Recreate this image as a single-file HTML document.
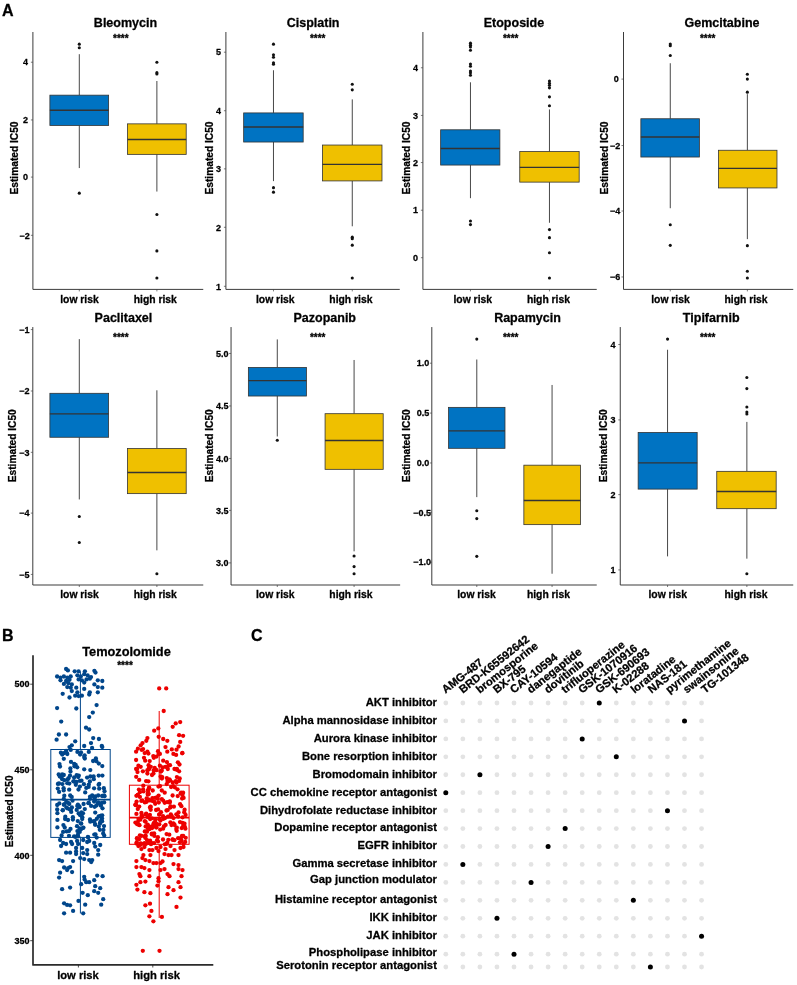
<!DOCTYPE html>
<html><head><meta charset="utf-8"><title>Figure</title>
<style>html,body{margin:0;padding:0;background:#fff}body{width:797px;height:985px;overflow:hidden;font-family:"Liberation Sans",sans-serif}svg{display:block;will-change:transform}</style></head>
<body>
<svg width="797" height="985" viewBox="0 0 797 985" font-family="Liberation Sans, sans-serif" font-weight="bold">
<rect width="797" height="985" fill="#fff"/>
<text x="2.00" y="15.80" font-size="16" text-anchor="start" fill="#000" stroke="#000" stroke-width="0.28" stroke-linejoin="round" >A</text>
<text x="2.00" y="640.90" font-size="16" text-anchor="start" fill="#000" stroke="#000" stroke-width="0.28" stroke-linejoin="round" >B</text>
<text x="251.00" y="641.00" font-size="16" text-anchor="start" fill="#000" stroke="#000" stroke-width="0.28" stroke-linejoin="round" >C</text>
<path d="M32.90 32.00V289.40H203.26" fill="none" stroke="#303030" stroke-width="0.95"/>
<path d="M30.90 62.23H32.90" stroke="#444" stroke-width="0.7"/>
<text x="28.05" y="65.48" font-size="9" text-anchor="end" fill="#000" stroke="#000" stroke-width="0.28" stroke-linejoin="round" >4</text>
<path d="M30.90 119.95H32.90" stroke="#444" stroke-width="0.7"/>
<text x="28.05" y="123.20" font-size="9" text-anchor="end" fill="#000" stroke="#000" stroke-width="0.28" stroke-linejoin="round" >2</text>
<path d="M30.90 177.10H32.90" stroke="#444" stroke-width="0.7"/>
<text x="28.05" y="180.35" font-size="9" text-anchor="end" fill="#000" stroke="#000" stroke-width="0.28" stroke-linejoin="round" >0</text>
<path d="M30.90 235.32H32.90" stroke="#444" stroke-width="0.7"/>
<text x="29.68" y="238.57" font-size="9" text-anchor="end" fill="#000" stroke="#000" stroke-width="0.28" stroke-linejoin="round" >−2</text>
<path d="M79.30 289.40v2.0" stroke="#444" stroke-width="0.7"/>
<path d="M156.89 289.40v2.0" stroke="#444" stroke-width="0.7"/>
<text x="125.47" y="27.00" font-size="12.5" text-anchor="middle" fill="#000" stroke="#000" stroke-width="0.28" stroke-linejoin="round" >Bleomycin</text>
<text x="120.85" y="42.00" font-size="10" text-anchor="middle" fill="#000" stroke="#000" stroke-width="0.28" stroke-linejoin="round" >****</text>
<text transform="translate(18.20 158.00) rotate(-90)" stroke="#000" stroke-width="0.28" stroke-linejoin="round" font-size="10.2" text-anchor="middle">Estimated IC50</text>
<text x="79.50" y="302.70" font-size="10.35" text-anchor="middle" fill="#000" stroke="#000" stroke-width="0.28" stroke-linejoin="round" >low risk</text>
<text x="155.28" y="302.70" font-size="10.35" text-anchor="middle" fill="#000" stroke="#000" stroke-width="0.28" stroke-linejoin="round" >high risk</text>
<path d="M79.30 54.20V95.16M79.30 125.47V168.07" stroke="#333333" stroke-width="0.9"/>
<rect x="49.89" y="95.16" width="58.72" height="30.31" fill="#0073C2" stroke="#333333" stroke-width="0.8"/>
<path d="M49.89 110.21H108.61" stroke="#333333" stroke-width="1.4"/>
<circle cx="79.30" cy="44.17" r="1.55" fill="#111"/>
<circle cx="79.30" cy="47.78" r="1.55" fill="#111"/>
<circle cx="79.30" cy="193.16" r="1.55" fill="#111"/>
<path d="M156.89 81.00V123.86M156.89 154.38V191.56" stroke="#333333" stroke-width="0.9"/>
<rect x="127.48" y="123.86" width="58.72" height="30.51" fill="#EFC000" stroke="#333333" stroke-width="0.8"/>
<path d="M127.48 139.52H186.20" stroke="#333333" stroke-width="1.4"/>
<circle cx="156.89" cy="62.23" r="1.55" fill="#111"/>
<circle cx="156.89" cy="72.67" r="1.55" fill="#111"/>
<circle cx="156.89" cy="73.88" r="1.55" fill="#111"/>
<circle cx="156.89" cy="214.54" r="1.55" fill="#111"/>
<circle cx="156.89" cy="250.88" r="1.55" fill="#111"/>
<circle cx="156.89" cy="277.98" r="1.55" fill="#111"/>
<path d="M225.90 32.00V289.40H399.75" fill="none" stroke="#303030" stroke-width="0.95"/>
<path d="M223.90 52.20H225.90" stroke="#444" stroke-width="0.7"/>
<text x="221.05" y="55.45" font-size="9" text-anchor="end" fill="#000" stroke="#000" stroke-width="0.28" stroke-linejoin="round" >5</text>
<path d="M223.90 110.72H225.90" stroke="#444" stroke-width="0.7"/>
<text x="221.05" y="113.97" font-size="9" text-anchor="end" fill="#000" stroke="#000" stroke-width="0.28" stroke-linejoin="round" >4</text>
<path d="M223.90 168.87H225.90" stroke="#444" stroke-width="0.7"/>
<text x="221.05" y="172.12" font-size="9" text-anchor="end" fill="#000" stroke="#000" stroke-width="0.28" stroke-linejoin="round" >3</text>
<path d="M223.90 227.29H225.90" stroke="#444" stroke-width="0.7"/>
<text x="221.05" y="230.54" font-size="9" text-anchor="end" fill="#000" stroke="#000" stroke-width="0.28" stroke-linejoin="round" >2</text>
<path d="M223.90 286.31H225.90" stroke="#444" stroke-width="0.7"/>
<text x="221.05" y="289.56" font-size="9" text-anchor="end" fill="#000" stroke="#000" stroke-width="0.28" stroke-linejoin="round" >1</text>
<path d="M273.48 289.40v2.0" stroke="#444" stroke-width="0.7"/>
<path d="M352.27 289.40v2.0" stroke="#444" stroke-width="0.7"/>
<text x="313.12" y="27.00" font-size="12.5" text-anchor="middle" fill="#000" stroke="#000" stroke-width="0.28" stroke-linejoin="round" >Cisplatin</text>
<text x="317.74" y="42.00" font-size="10" text-anchor="middle" fill="#000" stroke="#000" stroke-width="0.28" stroke-linejoin="round" >****</text>
<text transform="translate(212.90 158.00) rotate(-90)" stroke="#000" stroke-width="0.28" stroke-linejoin="round" font-size="10.2" text-anchor="middle">Estimated IC50</text>
<text x="275.28" y="302.70" font-size="10.35" text-anchor="middle" fill="#000" stroke="#000" stroke-width="0.28" stroke-linejoin="round" >low risk</text>
<text x="350.87" y="302.70" font-size="10.35" text-anchor="middle" fill="#000" stroke="#000" stroke-width="0.28" stroke-linejoin="round" >high risk</text>
<path d="M273.48 70.26V112.92M273.48 142.03V181.12" stroke="#333333" stroke-width="0.9"/>
<rect x="243.66" y="112.92" width="59.52" height="29.11" fill="#0073C2" stroke="#333333" stroke-width="0.8"/>
<path d="M243.66 126.98H303.19" stroke="#333333" stroke-width="1.4"/>
<circle cx="273.48" cy="44.17" r="1.55" fill="#111"/>
<circle cx="273.48" cy="54.71" r="1.55" fill="#111"/>
<circle cx="273.48" cy="57.21" r="1.55" fill="#111"/>
<circle cx="273.48" cy="62.74" r="1.55" fill="#111"/>
<circle cx="273.48" cy="64.24" r="1.55" fill="#111"/>
<circle cx="273.48" cy="187.64" r="1.55" fill="#111"/>
<circle cx="273.48" cy="192.16" r="1.55" fill="#111"/>
<path d="M352.27 99.37V145.04M352.27 180.92V226.29" stroke="#333333" stroke-width="0.9"/>
<rect x="322.46" y="145.04" width="59.52" height="35.87" fill="#EFC000" stroke="#333333" stroke-width="0.8"/>
<path d="M322.46 164.35H381.98" stroke="#333333" stroke-width="1.4"/>
<circle cx="352.27" cy="84.32" r="1.55" fill="#111"/>
<circle cx="352.27" cy="89.84" r="1.55" fill="#111"/>
<circle cx="352.27" cy="237.13" r="1.55" fill="#111"/>
<circle cx="352.27" cy="238.63" r="1.55" fill="#111"/>
<circle cx="352.27" cy="245.16" r="1.55" fill="#111"/>
<circle cx="352.27" cy="277.98" r="1.55" fill="#111"/>
<path d="M422.90 32.00V289.40H596.74" fill="none" stroke="#303030" stroke-width="0.95"/>
<path d="M420.90 67.75H422.90" stroke="#444" stroke-width="0.7"/>
<text x="418.05" y="71.00" font-size="9" text-anchor="end" fill="#000" stroke="#000" stroke-width="0.28" stroke-linejoin="round" >4</text>
<path d="M420.90 115.43H422.90" stroke="#444" stroke-width="0.7"/>
<text x="418.05" y="118.68" font-size="9" text-anchor="end" fill="#000" stroke="#000" stroke-width="0.28" stroke-linejoin="round" >3</text>
<path d="M420.90 162.55H422.90" stroke="#444" stroke-width="0.7"/>
<text x="418.05" y="165.80" font-size="9" text-anchor="end" fill="#000" stroke="#000" stroke-width="0.28" stroke-linejoin="round" >2</text>
<path d="M420.90 210.23H422.90" stroke="#444" stroke-width="0.7"/>
<text x="418.05" y="213.48" font-size="9" text-anchor="end" fill="#000" stroke="#000" stroke-width="0.28" stroke-linejoin="round" >1</text>
<path d="M420.90 257.70H422.90" stroke="#444" stroke-width="0.7"/>
<text x="418.05" y="260.95" font-size="9" text-anchor="end" fill="#000" stroke="#000" stroke-width="0.28" stroke-linejoin="round" >0</text>
<path d="M470.46 289.40v2.0" stroke="#444" stroke-width="0.7"/>
<path d="M549.46 289.40v2.0" stroke="#444" stroke-width="0.7"/>
<text x="513.93" y="27.00" font-size="12.5" text-anchor="middle" fill="#000" stroke="#000" stroke-width="0.28" stroke-linejoin="round" >Etoposide</text>
<text x="510.72" y="42.00" font-size="10" text-anchor="middle" fill="#000" stroke="#000" stroke-width="0.28" stroke-linejoin="round" >****</text>
<text transform="translate(409.70 158.00) rotate(-90)" stroke="#000" stroke-width="0.28" stroke-linejoin="round" font-size="10.2" text-anchor="middle">Estimated IC50</text>
<text x="472.77" y="302.70" font-size="10.35" text-anchor="middle" fill="#000" stroke="#000" stroke-width="0.28" stroke-linejoin="round" >low risk</text>
<text x="548.46" y="302.70" font-size="10.35" text-anchor="middle" fill="#000" stroke="#000" stroke-width="0.28" stroke-linejoin="round" >high risk</text>
<path d="M470.46 82.31V129.79M470.46 165.06V198.18" stroke="#333333" stroke-width="0.9"/>
<rect x="440.65" y="129.79" width="59.22" height="35.27" fill="#0073C2" stroke="#333333" stroke-width="0.8"/>
<path d="M440.65 148.56H499.87" stroke="#333333" stroke-width="1.4"/>
<circle cx="470.46" cy="43.16" r="1.55" fill="#111"/>
<circle cx="470.46" cy="45.17" r="1.55" fill="#111"/>
<circle cx="470.46" cy="46.98" r="1.55" fill="#111"/>
<circle cx="470.46" cy="50.19" r="1.55" fill="#111"/>
<circle cx="470.46" cy="64.04" r="1.55" fill="#111"/>
<circle cx="470.46" cy="66.25" r="1.55" fill="#111"/>
<circle cx="470.46" cy="71.07" r="1.55" fill="#111"/>
<circle cx="470.46" cy="72.77" r="1.55" fill="#111"/>
<circle cx="470.46" cy="75.28" r="1.55" fill="#111"/>
<circle cx="470.46" cy="221.07" r="1.55" fill="#111"/>
<circle cx="470.46" cy="224.58" r="1.55" fill="#111"/>
<path d="M549.46 109.41V151.57M549.46 182.12V222.77" stroke="#333333" stroke-width="0.9"/>
<rect x="519.75" y="151.57" width="59.42" height="30.55" fill="#EFC000" stroke="#333333" stroke-width="0.8"/>
<path d="M519.75 167.37H579.17" stroke="#333333" stroke-width="1.4"/>
<circle cx="549.46" cy="81.10" r="1.55" fill="#111"/>
<circle cx="549.46" cy="83.31" r="1.55" fill="#111"/>
<circle cx="549.46" cy="85.32" r="1.55" fill="#111"/>
<circle cx="549.46" cy="87.83" r="1.55" fill="#111"/>
<circle cx="549.46" cy="96.86" r="1.55" fill="#111"/>
<circle cx="549.46" cy="105.70" r="1.55" fill="#111"/>
<circle cx="549.46" cy="229.60" r="1.55" fill="#111"/>
<circle cx="549.46" cy="237.63" r="1.55" fill="#111"/>
<circle cx="549.46" cy="252.69" r="1.55" fill="#111"/>
<circle cx="549.46" cy="277.98" r="1.55" fill="#111"/>
<path d="M623.50 32.00V289.40H793.24" fill="none" stroke="#303030" stroke-width="0.95"/>
<path d="M621.50 79.10H623.50" stroke="#444" stroke-width="0.7"/>
<text x="618.65" y="82.35" font-size="9" text-anchor="end" fill="#000" stroke="#000" stroke-width="0.28" stroke-linejoin="round" >0</text>
<path d="M621.50 145.55H623.50" stroke="#444" stroke-width="0.7"/>
<text x="620.28" y="148.80" font-size="9" text-anchor="end" fill="#000" stroke="#000" stroke-width="0.28" stroke-linejoin="round" >−2</text>
<path d="M621.50 211.03H623.50" stroke="#444" stroke-width="0.7"/>
<text x="620.28" y="214.28" font-size="9" text-anchor="end" fill="#000" stroke="#000" stroke-width="0.28" stroke-linejoin="round" >−4</text>
<path d="M621.50 276.98H623.50" stroke="#444" stroke-width="0.7"/>
<text x="620.28" y="280.23" font-size="9" text-anchor="end" fill="#000" stroke="#000" stroke-width="0.28" stroke-linejoin="round" >−6</text>
<path d="M670.27 289.40v2.0" stroke="#444" stroke-width="0.7"/>
<path d="M747.36 289.40v2.0" stroke="#444" stroke-width="0.7"/>
<text x="721.97" y="27.00" font-size="12.5" text-anchor="middle" fill="#000" stroke="#000" stroke-width="0.28" stroke-linejoin="round" >Gemcitabine</text>
<text x="707.72" y="42.00" font-size="10" text-anchor="middle" fill="#000" stroke="#000" stroke-width="0.28" stroke-linejoin="round" >****</text>
<text transform="translate(607.70 158.00) rotate(-90)" stroke="#000" stroke-width="0.28" stroke-linejoin="round" font-size="10.2" text-anchor="middle">Estimated IC50</text>
<text x="670.48" y="302.70" font-size="10.35" text-anchor="middle" fill="#000" stroke="#000" stroke-width="0.28" stroke-linejoin="round" >low risk</text>
<text x="746.06" y="302.70" font-size="10.35" text-anchor="middle" fill="#000" stroke="#000" stroke-width="0.28" stroke-linejoin="round" >high risk</text>
<path d="M670.27 63.24V118.75M670.27 157.03V208.22" stroke="#333333" stroke-width="0.9"/>
<rect x="640.86" y="118.75" width="58.52" height="38.28" fill="#0073C2" stroke="#333333" stroke-width="0.8"/>
<path d="M640.86 137.01H699.38" stroke="#333333" stroke-width="1.4"/>
<circle cx="670.27" cy="43.96" r="1.55" fill="#111"/>
<circle cx="670.27" cy="45.67" r="1.55" fill="#111"/>
<circle cx="670.27" cy="55.51" r="1.55" fill="#111"/>
<circle cx="670.27" cy="224.78" r="1.55" fill="#111"/>
<circle cx="670.27" cy="245.36" r="1.55" fill="#111"/>
<path d="M747.36 94.15V150.26M747.36 187.94V239.13" stroke="#333333" stroke-width="0.9"/>
<rect x="718.46" y="150.26" width="58.52" height="37.68" fill="#EFC000" stroke="#333333" stroke-width="0.8"/>
<path d="M718.46 168.37H776.97" stroke="#333333" stroke-width="1.4"/>
<circle cx="747.36" cy="74.28" r="1.55" fill="#111"/>
<circle cx="747.36" cy="79.10" r="1.55" fill="#111"/>
<circle cx="747.36" cy="92.15" r="1.55" fill="#111"/>
<circle cx="747.36" cy="245.66" r="1.55" fill="#111"/>
<circle cx="747.36" cy="271.25" r="1.55" fill="#111"/>
<circle cx="747.36" cy="277.98" r="1.55" fill="#111"/>
<path d="M32.80 327.06V585.00H203.26" fill="none" stroke="#303030" stroke-width="0.95"/>
<path d="M30.80 329.57H32.80" stroke="#444" stroke-width="0.7"/>
<text x="29.58" y="332.82" font-size="9" text-anchor="end" fill="#000" stroke="#000" stroke-width="0.28" stroke-linejoin="round" >−1</text>
<path d="M30.80 391.00H32.80" stroke="#444" stroke-width="0.7"/>
<text x="29.58" y="394.25" font-size="9" text-anchor="end" fill="#000" stroke="#000" stroke-width="0.28" stroke-linejoin="round" >−2</text>
<path d="M30.80 452.33H32.80" stroke="#444" stroke-width="0.7"/>
<text x="29.58" y="455.58" font-size="9" text-anchor="end" fill="#000" stroke="#000" stroke-width="0.28" stroke-linejoin="round" >−3</text>
<path d="M30.80 513.10H32.80" stroke="#444" stroke-width="0.7"/>
<text x="29.58" y="516.35" font-size="9" text-anchor="end" fill="#000" stroke="#000" stroke-width="0.28" stroke-linejoin="round" >−4</text>
<path d="M30.80 574.43H32.80" stroke="#444" stroke-width="0.7"/>
<text x="29.58" y="577.68" font-size="9" text-anchor="end" fill="#000" stroke="#000" stroke-width="0.28" stroke-linejoin="round" >−5</text>
<path d="M79.30 585.00v2.0" stroke="#444" stroke-width="0.7"/>
<path d="M156.89 585.00v2.0" stroke="#444" stroke-width="0.7"/>
<text x="123.46" y="321.80" font-size="12.5" text-anchor="middle" fill="#000" stroke="#000" stroke-width="0.28" stroke-linejoin="round" >Paclitaxel</text>
<text x="120.85" y="341.30" font-size="10" text-anchor="middle" fill="#000" stroke="#000" stroke-width="0.28" stroke-linejoin="round" >****</text>
<text transform="translate(16.30 445.75) rotate(-90)" stroke="#000" stroke-width="0.28" stroke-linejoin="round" font-size="10.2" text-anchor="middle">Estimated IC50</text>
<text x="79.50" y="598.30" font-size="10.35" text-anchor="middle" fill="#000" stroke="#000" stroke-width="0.28" stroke-linejoin="round" >low risk</text>
<text x="155.28" y="598.30" font-size="10.35" text-anchor="middle" fill="#000" stroke="#000" stroke-width="0.28" stroke-linejoin="round" >high risk</text>
<path d="M79.30 339.11V393.31M79.30 437.28V499.45" stroke="#333333" stroke-width="0.9"/>
<rect x="49.89" y="393.31" width="58.72" height="43.96" fill="#0073C2" stroke="#333333" stroke-width="0.8"/>
<path d="M49.89 413.89H108.61" stroke="#333333" stroke-width="1.4"/>
<circle cx="79.30" cy="516.51" r="1.55" fill="#111"/>
<circle cx="79.30" cy="542.51" r="1.55" fill="#111"/>
<path d="M156.89 390.30V448.52M156.89 493.63V550.34" stroke="#333333" stroke-width="0.9"/>
<rect x="127.48" y="448.52" width="58.72" height="45.11" fill="#EFC000" stroke="#333333" stroke-width="0.8"/>
<path d="M127.48 472.55H186.20" stroke="#333333" stroke-width="1.4"/>
<circle cx="156.89" cy="573.73" r="1.55" fill="#111"/>
<path d="M231.05 327.06V585.00H400.15" fill="none" stroke="#303030" stroke-width="0.95"/>
<path d="M229.05 353.46H231.05" stroke="#444" stroke-width="0.7"/>
<text x="228.53" y="356.71" font-size="9" text-anchor="end" fill="#000" stroke="#000" stroke-width="0.28" stroke-linejoin="round" >5.0</text>
<path d="M229.05 405.96H231.05" stroke="#444" stroke-width="0.7"/>
<text x="228.53" y="409.21" font-size="9" text-anchor="end" fill="#000" stroke="#000" stroke-width="0.28" stroke-linejoin="round" >4.5</text>
<path d="M229.05 458.46H231.05" stroke="#444" stroke-width="0.7"/>
<text x="228.53" y="461.71" font-size="9" text-anchor="end" fill="#000" stroke="#000" stroke-width="0.28" stroke-linejoin="round" >4.0</text>
<path d="M229.05 510.39H231.05" stroke="#444" stroke-width="0.7"/>
<text x="228.53" y="513.64" font-size="9" text-anchor="end" fill="#000" stroke="#000" stroke-width="0.28" stroke-linejoin="round" >3.5</text>
<path d="M229.05 562.89H231.05" stroke="#444" stroke-width="0.7"/>
<text x="228.53" y="566.14" font-size="9" text-anchor="end" fill="#000" stroke="#000" stroke-width="0.28" stroke-linejoin="round" >3.0</text>
<path d="M277.29 585.00v2.0" stroke="#444" stroke-width="0.7"/>
<path d="M354.08 585.00v2.0" stroke="#444" stroke-width="0.7"/>
<text x="324.77" y="321.80" font-size="12.5" text-anchor="middle" fill="#000" stroke="#000" stroke-width="0.28" stroke-linejoin="round" >Pazopanib</text>
<text x="317.74" y="341.30" font-size="10" text-anchor="middle" fill="#000" stroke="#000" stroke-width="0.28" stroke-linejoin="round" >****</text>
<text transform="translate(213.30 445.75) rotate(-90)" stroke="#000" stroke-width="0.28" stroke-linejoin="round" font-size="10.2" text-anchor="middle">Estimated IC50</text>
<text x="275.28" y="598.30" font-size="10.35" text-anchor="middle" fill="#000" stroke="#000" stroke-width="0.28" stroke-linejoin="round" >low risk</text>
<text x="350.87" y="598.30" font-size="10.35" text-anchor="middle" fill="#000" stroke="#000" stroke-width="0.28" stroke-linejoin="round" >high risk</text>
<path d="M277.29 339.41V367.42M277.29 396.02V436.47" stroke="#333333" stroke-width="0.9"/>
<rect x="248.38" y="367.42" width="58.02" height="28.61" fill="#0073C2" stroke="#333333" stroke-width="0.8"/>
<path d="M248.38 380.66H306.40" stroke="#333333" stroke-width="1.4"/>
<circle cx="277.29" cy="440.29" r="1.55" fill="#111"/>
<path d="M354.08 359.99V413.69M354.08 469.34V551.34" stroke="#333333" stroke-width="0.9"/>
<rect x="325.07" y="413.69" width="58.12" height="55.65" fill="#EFC000" stroke="#333333" stroke-width="0.8"/>
<path d="M325.07 440.49H383.19" stroke="#333333" stroke-width="1.4"/>
<circle cx="354.08" cy="556.06" r="1.55" fill="#111"/>
<circle cx="354.08" cy="566.60" r="1.55" fill="#111"/>
<circle cx="354.08" cy="573.73" r="1.55" fill="#111"/>
<path d="M431.80 327.06V585.00H596.74" fill="none" stroke="#303030" stroke-width="0.95"/>
<path d="M429.80 363.20H431.80" stroke="#444" stroke-width="0.7"/>
<text x="429.28" y="366.45" font-size="9" text-anchor="end" fill="#000" stroke="#000" stroke-width="0.28" stroke-linejoin="round" >1.0</text>
<path d="M429.80 413.09H431.80" stroke="#444" stroke-width="0.7"/>
<text x="429.28" y="416.34" font-size="9" text-anchor="end" fill="#000" stroke="#000" stroke-width="0.28" stroke-linejoin="round" >0.5</text>
<path d="M429.80 462.97H431.80" stroke="#444" stroke-width="0.7"/>
<text x="429.28" y="466.22" font-size="9" text-anchor="end" fill="#000" stroke="#000" stroke-width="0.28" stroke-linejoin="round" >0.0</text>
<path d="M429.80 512.30H431.80" stroke="#444" stroke-width="0.7"/>
<text x="430.91" y="515.55" font-size="9" text-anchor="end" fill="#000" stroke="#000" stroke-width="0.28" stroke-linejoin="round" >−0.5</text>
<path d="M429.80 562.18H431.80" stroke="#444" stroke-width="0.7"/>
<text x="430.91" y="565.43" font-size="9" text-anchor="end" fill="#000" stroke="#000" stroke-width="0.28" stroke-linejoin="round" >−1.0</text>
<path d="M476.79 585.00v2.0" stroke="#444" stroke-width="0.7"/>
<path d="M552.07 585.00v2.0" stroke="#444" stroke-width="0.7"/>
<text x="527.48" y="321.80" font-size="12.5" text-anchor="middle" fill="#000" stroke="#000" stroke-width="0.28" stroke-linejoin="round" >Rapamycin</text>
<text x="510.72" y="341.30" font-size="10" text-anchor="middle" fill="#000" stroke="#000" stroke-width="0.28" stroke-linejoin="round" >****</text>
<text transform="translate(409.70 445.75) rotate(-90)" stroke="#000" stroke-width="0.28" stroke-linejoin="round" font-size="10.2" text-anchor="middle">Estimated IC50</text>
<text x="476.49" y="598.30" font-size="10.35" text-anchor="middle" fill="#000" stroke="#000" stroke-width="0.28" stroke-linejoin="round" >low risk</text>
<text x="548.46" y="598.30" font-size="10.35" text-anchor="middle" fill="#000" stroke="#000" stroke-width="0.28" stroke-linejoin="round" >high risk</text>
<path d="M476.79 359.49V407.37M476.79 448.32V497.14" stroke="#333333" stroke-width="0.9"/>
<rect x="448.58" y="407.37" width="56.41" height="40.95" fill="#0073C2" stroke="#333333" stroke-width="0.8"/>
<path d="M448.58 430.85H504.99" stroke="#333333" stroke-width="1.4"/>
<circle cx="476.79" cy="339.11" r="1.55" fill="#111"/>
<circle cx="476.79" cy="510.79" r="1.55" fill="#111"/>
<circle cx="476.79" cy="518.62" r="1.55" fill="#111"/>
<circle cx="476.79" cy="556.36" r="1.55" fill="#111"/>
<path d="M552.07 384.98V465.18M552.07 524.64V573.73" stroke="#333333" stroke-width="0.9"/>
<rect x="523.86" y="465.18" width="56.61" height="59.46" fill="#EFC000" stroke="#333333" stroke-width="0.8"/>
<path d="M523.86 500.45H580.48" stroke="#333333" stroke-width="1.4"/>
<path d="M620.25 327.06V585.00H793.24" fill="none" stroke="#303030" stroke-width="0.95"/>
<path d="M618.25 344.53H620.25" stroke="#444" stroke-width="0.7"/>
<text x="615.40" y="347.78" font-size="9" text-anchor="end" fill="#000" stroke="#000" stroke-width="0.28" stroke-linejoin="round" >4</text>
<path d="M618.25 419.91H620.25" stroke="#444" stroke-width="0.7"/>
<text x="615.40" y="423.16" font-size="9" text-anchor="end" fill="#000" stroke="#000" stroke-width="0.28" stroke-linejoin="round" >3</text>
<path d="M618.25 494.63H620.25" stroke="#444" stroke-width="0.7"/>
<text x="615.40" y="497.88" font-size="9" text-anchor="end" fill="#000" stroke="#000" stroke-width="0.28" stroke-linejoin="round" >2</text>
<path d="M618.25 569.91H620.25" stroke="#444" stroke-width="0.7"/>
<text x="615.40" y="573.16" font-size="9" text-anchor="end" fill="#000" stroke="#000" stroke-width="0.28" stroke-linejoin="round" >1</text>
<path d="M667.56 585.00v2.0" stroke="#444" stroke-width="0.7"/>
<path d="M746.86 585.00v2.0" stroke="#444" stroke-width="0.7"/>
<text x="711.23" y="321.80" font-size="12.5" text-anchor="middle" fill="#000" stroke="#000" stroke-width="0.28" stroke-linejoin="round" >Tipifarnib</text>
<text x="707.72" y="341.30" font-size="10" text-anchor="middle" fill="#000" stroke="#000" stroke-width="0.28" stroke-linejoin="round" >****</text>
<text transform="translate(607.10 445.75) rotate(-90)" stroke="#000" stroke-width="0.28" stroke-linejoin="round" font-size="10.2" text-anchor="middle">Estimated IC50</text>
<text x="667.77" y="598.30" font-size="10.35" text-anchor="middle" fill="#000" stroke="#000" stroke-width="0.28" stroke-linejoin="round" >low risk</text>
<text x="746.06" y="598.30" font-size="10.35" text-anchor="middle" fill="#000" stroke="#000" stroke-width="0.28" stroke-linejoin="round" >high risk</text>
<path d="M667.56 349.75V432.46M667.56 489.11V556.36" stroke="#333333" stroke-width="0.9"/>
<rect x="638.15" y="432.46" width="59.02" height="56.65" fill="#0073C2" stroke="#333333" stroke-width="0.8"/>
<path d="M638.15 462.87H697.18" stroke="#333333" stroke-width="1.4"/>
<circle cx="667.56" cy="339.11" r="1.55" fill="#111"/>
<path d="M746.86 421.92V471.34M746.86 508.68V558.67" stroke="#333333" stroke-width="0.9"/>
<rect x="716.75" y="471.34" width="59.42" height="37.34" fill="#EFC000" stroke="#333333" stroke-width="0.8"/>
<path d="M716.75 491.52H776.17" stroke="#333333" stroke-width="1.4"/>
<circle cx="746.86" cy="377.45" r="1.55" fill="#111"/>
<circle cx="746.86" cy="388.59" r="1.55" fill="#111"/>
<circle cx="746.86" cy="406.96" r="1.55" fill="#111"/>
<circle cx="746.86" cy="411.98" r="1.55" fill="#111"/>
<circle cx="746.86" cy="413.99" r="1.55" fill="#111"/>
<circle cx="746.86" cy="573.73" r="1.55" fill="#111"/>
<path d="M33 655.2V964.9H213.3" fill="none" stroke="#2b2b2b" stroke-width="1.7" stroke-linejoin="round"/>
<path d="M30.2 684.2H33" stroke="#222" stroke-width="0.8"/>
<text x="29.60" y="687.45" font-size="9" text-anchor="end" fill="#000" stroke="#000" stroke-width="0.28" stroke-linejoin="round" >500</text>
<path d="M30.2 769.8H33" stroke="#222" stroke-width="0.8"/>
<text x="29.60" y="773.05" font-size="9" text-anchor="end" fill="#000" stroke="#000" stroke-width="0.28" stroke-linejoin="round" >450</text>
<path d="M30.2 855.3H33" stroke="#222" stroke-width="0.8"/>
<text x="29.60" y="858.55" font-size="9" text-anchor="end" fill="#000" stroke="#000" stroke-width="0.28" stroke-linejoin="round" >400</text>
<path d="M30.2 940.7H33" stroke="#222" stroke-width="0.8"/>
<text x="29.60" y="943.95" font-size="9" text-anchor="end" fill="#000" stroke="#000" stroke-width="0.28" stroke-linejoin="round" >350</text>
<path d="M78.4 964.9v2.6" stroke="#222" stroke-width="0.8"/>
<path d="M152.8 964.9v2.6" stroke="#222" stroke-width="0.8"/>
<text x="126.50" y="655.80" font-size="12.8" text-anchor="middle" fill="#000" stroke="#000" stroke-width="0.28" stroke-linejoin="round" >Temozolomide</text>
<text x="125.00" y="668.80" font-size="10" text-anchor="middle" fill="#000" stroke="#000" stroke-width="0.28" stroke-linejoin="round" >****</text>
<text transform="translate(12.5 811.4) rotate(-90)" stroke="#000" stroke-width="0.28" stroke-linejoin="round" font-size="10" text-anchor="middle">Estimated IC50</text>
<text x="78.00" y="979.20" font-size="11.2" text-anchor="middle" fill="#000" stroke="#000" stroke-width="0.28" stroke-linejoin="round" >low risk</text>
<text x="156.60" y="979.20" font-size="11.2" text-anchor="middle" fill="#000" stroke="#000" stroke-width="0.28" stroke-linejoin="round" >high risk</text>
<path d="M80.4 672V749.5M80.4 837.4V913.5" stroke="#00468B" stroke-width="1"/>
<rect x="50.8" y="749.5" width="59.40" height="87.90" fill="none" stroke="#00468B" stroke-width="1"/>
<path d="M50.8 799.6H110.2" stroke="#00468B" stroke-width="1.7"/>
<path d="M159.2 711V785.2M159.2 844.3V918" stroke="#ED0000" stroke-width="1"/>
<rect x="129.4" y="785.2" width="59.70" height="59.10" fill="none" stroke="#ED0000" stroke-width="1"/>
<path d="M129.4 817.6H189.1" stroke="#ED0000" stroke-width="1.7"/>
<circle cx="66.1" cy="669.0" r="2.15" fill="#00468B"/>
<circle cx="67.9" cy="670.4" r="2.15" fill="#00468B"/>
<circle cx="74.7" cy="671.3" r="2.15" fill="#00468B"/>
<circle cx="78.6" cy="671.3" r="2.15" fill="#00468B"/>
<circle cx="84.9" cy="671.3" r="2.15" fill="#00468B"/>
<circle cx="94.4" cy="670.8" r="2.15" fill="#00468B"/>
<circle cx="95.5" cy="672.6" r="2.15" fill="#00468B"/>
<circle cx="57.1" cy="676.5" r="2.15" fill="#00468B"/>
<circle cx="60.5" cy="677.6" r="2.15" fill="#00468B"/>
<circle cx="63.9" cy="676.5" r="2.15" fill="#00468B"/>
<circle cx="67.3" cy="677.6" r="2.15" fill="#00468B"/>
<circle cx="70.7" cy="676.5" r="2.15" fill="#00468B"/>
<circle cx="77.4" cy="675.3" r="2.15" fill="#00468B"/>
<circle cx="80.8" cy="676.5" r="2.15" fill="#00468B"/>
<circle cx="84.2" cy="674.2" r="2.15" fill="#00468B"/>
<circle cx="87.6" cy="675.3" r="2.15" fill="#00468B"/>
<circle cx="91.0" cy="677.1" r="2.15" fill="#00468B"/>
<circle cx="60.5" cy="680.3" r="2.15" fill="#00468B"/>
<circle cx="66.1" cy="681.0" r="2.15" fill="#00468B"/>
<circle cx="69.5" cy="679.8" r="2.15" fill="#00468B"/>
<circle cx="78.6" cy="679.4" r="2.15" fill="#00468B"/>
<circle cx="81.9" cy="680.3" r="2.15" fill="#00468B"/>
<circle cx="86.5" cy="679.4" r="2.15" fill="#00468B"/>
<circle cx="89.8" cy="678.7" r="2.15" fill="#00468B"/>
<circle cx="97.8" cy="680.3" r="2.15" fill="#00468B"/>
<circle cx="102.3" cy="681.0" r="2.15" fill="#00468B"/>
<circle cx="63.9" cy="683.9" r="2.15" fill="#00468B"/>
<circle cx="68.4" cy="683.2" r="2.15" fill="#00468B"/>
<circle cx="71.8" cy="684.4" r="2.15" fill="#00468B"/>
<circle cx="84.2" cy="682.6" r="2.15" fill="#00468B"/>
<circle cx="94.4" cy="684.4" r="2.15" fill="#00468B"/>
<circle cx="67.3" cy="687.1" r="2.15" fill="#00468B"/>
<circle cx="70.7" cy="687.7" r="2.15" fill="#00468B"/>
<circle cx="76.3" cy="687.7" r="2.15" fill="#00468B"/>
<circle cx="84.2" cy="688.9" r="2.15" fill="#00468B"/>
<circle cx="97.8" cy="687.1" r="2.15" fill="#00468B"/>
<circle cx="102.3" cy="687.7" r="2.15" fill="#00468B"/>
<circle cx="62.7" cy="693.8" r="2.15" fill="#00468B"/>
<circle cx="71.8" cy="691.1" r="2.15" fill="#00468B"/>
<circle cx="77.4" cy="692.3" r="2.15" fill="#00468B"/>
<circle cx="89.8" cy="692.3" r="2.15" fill="#00468B"/>
<circle cx="97.8" cy="692.3" r="2.15" fill="#00468B"/>
<circle cx="69.5" cy="697.5" r="2.15" fill="#00468B"/>
<circle cx="75.2" cy="695.7" r="2.15" fill="#00468B"/>
<circle cx="78.6" cy="696.1" r="2.15" fill="#00468B"/>
<circle cx="81.9" cy="695.7" r="2.15" fill="#00468B"/>
<circle cx="89.2" cy="694.5" r="2.15" fill="#00468B"/>
<circle cx="57.1" cy="708.1" r="2.15" fill="#00468B"/>
<circle cx="76.3" cy="708.5" r="2.15" fill="#00468B"/>
<circle cx="96.6" cy="705.1" r="2.15" fill="#00468B"/>
<circle cx="92.8" cy="712.6" r="2.15" fill="#00468B"/>
<circle cx="89.2" cy="717.1" r="2.15" fill="#00468B"/>
<circle cx="61.2" cy="721.6" r="2.15" fill="#00468B"/>
<circle cx="86.0" cy="727.7" r="2.15" fill="#00468B"/>
<circle cx="89.2" cy="729.5" r="2.15" fill="#00468B"/>
<circle cx="58.9" cy="734.5" r="2.15" fill="#00468B"/>
<circle cx="66.1" cy="734.5" r="2.15" fill="#00468B"/>
<circle cx="56.6" cy="739.7" r="2.15" fill="#00468B"/>
<circle cx="75.2" cy="741.3" r="2.15" fill="#00468B"/>
<circle cx="93.2" cy="738.1" r="2.15" fill="#00468B"/>
<circle cx="98.9" cy="739.0" r="2.15" fill="#00468B"/>
<circle cx="91.0" cy="743.1" r="2.15" fill="#00468B"/>
<circle cx="84.2" cy="746.0" r="2.15" fill="#00468B"/>
<circle cx="101.8" cy="746.0" r="2.15" fill="#00468B"/>
<circle cx="71.8" cy="745.3" r="2.15" fill="#00468B"/>
<circle cx="69.5" cy="747.1" r="2.15" fill="#00468B"/>
<circle cx="66.1" cy="751.0" r="2.15" fill="#00468B"/>
<circle cx="63.9" cy="753.2" r="2.15" fill="#00468B"/>
<circle cx="70.7" cy="749.9" r="2.15" fill="#00468B"/>
<circle cx="92.1" cy="748.0" r="2.15" fill="#00468B"/>
<circle cx="102.3" cy="747.1" r="2.15" fill="#00468B"/>
<circle cx="63.8" cy="758.8" r="2.15" fill="#00468B"/>
<circle cx="60.0" cy="766.6" r="2.15" fill="#00468B"/>
<circle cx="74.2" cy="763.9" r="2.15" fill="#00468B"/>
<circle cx="81.0" cy="752.4" r="2.15" fill="#00468B"/>
<circle cx="77.4" cy="751.9" r="2.15" fill="#00468B"/>
<circle cx="60.9" cy="752.7" r="2.15" fill="#00468B"/>
<circle cx="96.4" cy="761.2" r="2.15" fill="#00468B"/>
<circle cx="67.3" cy="754.0" r="2.15" fill="#00468B"/>
<circle cx="102.3" cy="766.1" r="2.15" fill="#00468B"/>
<circle cx="75.7" cy="764.9" r="2.15" fill="#00468B"/>
<circle cx="58.7" cy="774.4" r="2.15" fill="#00468B"/>
<circle cx="70.5" cy="771.6" r="2.15" fill="#00468B"/>
<circle cx="62.2" cy="754.5" r="2.15" fill="#00468B"/>
<circle cx="95.9" cy="758.4" r="2.15" fill="#00468B"/>
<circle cx="84.6" cy="755.3" r="2.15" fill="#00468B"/>
<circle cx="74.5" cy="766.3" r="2.15" fill="#00468B"/>
<circle cx="59.5" cy="764.1" r="2.15" fill="#00468B"/>
<circle cx="66.4" cy="752.4" r="2.15" fill="#00468B"/>
<circle cx="77.2" cy="767.3" r="2.15" fill="#00468B"/>
<circle cx="84.8" cy="758.5" r="2.15" fill="#00468B"/>
<circle cx="71.0" cy="761.9" r="2.15" fill="#00468B"/>
<circle cx="90.3" cy="770.1" r="2.15" fill="#00468B"/>
<circle cx="84.2" cy="756.9" r="2.15" fill="#00468B"/>
<circle cx="98.8" cy="763.6" r="2.15" fill="#00468B"/>
<circle cx="70.4" cy="768.5" r="2.15" fill="#00468B"/>
<circle cx="62.2" cy="774.5" r="2.15" fill="#00468B"/>
<circle cx="93.1" cy="761.0" r="2.15" fill="#00468B"/>
<circle cx="80.1" cy="754.6" r="2.15" fill="#00468B"/>
<circle cx="88.8" cy="751.9" r="2.15" fill="#00468B"/>
<circle cx="84.2" cy="769.3" r="2.15" fill="#00468B"/>
<circle cx="71.7" cy="796.9" r="2.15" fill="#00468B"/>
<circle cx="85.2" cy="792.4" r="2.15" fill="#00468B"/>
<circle cx="78.5" cy="789.5" r="2.15" fill="#00468B"/>
<circle cx="102.1" cy="796.0" r="2.15" fill="#00468B"/>
<circle cx="88.6" cy="786.9" r="2.15" fill="#00468B"/>
<circle cx="90.4" cy="776.5" r="2.15" fill="#00468B"/>
<circle cx="104.5" cy="791.2" r="2.15" fill="#00468B"/>
<circle cx="70.2" cy="795.5" r="2.15" fill="#00468B"/>
<circle cx="88.8" cy="784.6" r="2.15" fill="#00468B"/>
<circle cx="78.8" cy="775.6" r="2.15" fill="#00468B"/>
<circle cx="62.2" cy="779.2" r="2.15" fill="#00468B"/>
<circle cx="93.6" cy="776.5" r="2.15" fill="#00468B"/>
<circle cx="68.5" cy="778.2" r="2.15" fill="#00468B"/>
<circle cx="98.6" cy="784.8" r="2.15" fill="#00468B"/>
<circle cx="78.2" cy="777.0" r="2.15" fill="#00468B"/>
<circle cx="99.2" cy="788.7" r="2.15" fill="#00468B"/>
<circle cx="98.2" cy="795.5" r="2.15" fill="#00468B"/>
<circle cx="76.6" cy="782.0" r="2.15" fill="#00468B"/>
<circle cx="99.2" cy="784.0" r="2.15" fill="#00468B"/>
<circle cx="63.8" cy="798.9" r="2.15" fill="#00468B"/>
<circle cx="67.7" cy="779.4" r="2.15" fill="#00468B"/>
<circle cx="79.9" cy="780.8" r="2.15" fill="#00468B"/>
<circle cx="69.2" cy="789.7" r="2.15" fill="#00468B"/>
<circle cx="76.7" cy="775.1" r="2.15" fill="#00468B"/>
<circle cx="83.9" cy="784.2" r="2.15" fill="#00468B"/>
<circle cx="89.9" cy="798.8" r="2.15" fill="#00468B"/>
<circle cx="86.3" cy="787.9" r="2.15" fill="#00468B"/>
<circle cx="59.1" cy="791.9" r="2.15" fill="#00468B"/>
<circle cx="94.2" cy="797.5" r="2.15" fill="#00468B"/>
<circle cx="95.0" cy="796.9" r="2.15" fill="#00468B"/>
<circle cx="75.8" cy="784.8" r="2.15" fill="#00468B"/>
<circle cx="87.1" cy="777.6" r="2.15" fill="#00468B"/>
<circle cx="59.8" cy="776.6" r="2.15" fill="#00468B"/>
<circle cx="64.3" cy="780.2" r="2.15" fill="#00468B"/>
<circle cx="59.0" cy="783.5" r="2.15" fill="#00468B"/>
<circle cx="63.8" cy="775.0" r="2.15" fill="#00468B"/>
<circle cx="74.1" cy="777.5" r="2.15" fill="#00468B"/>
<circle cx="98.7" cy="775.6" r="2.15" fill="#00468B"/>
<circle cx="63.7" cy="790.4" r="2.15" fill="#00468B"/>
<circle cx="73.3" cy="781.3" r="2.15" fill="#00468B"/>
<circle cx="62.4" cy="784.1" r="2.15" fill="#00468B"/>
<circle cx="104.5" cy="796.2" r="2.15" fill="#00468B"/>
<circle cx="79.9" cy="786.6" r="2.15" fill="#00468B"/>
<circle cx="61.4" cy="777.1" r="2.15" fill="#00468B"/>
<circle cx="69.3" cy="783.6" r="2.15" fill="#00468B"/>
<circle cx="64.3" cy="795.7" r="2.15" fill="#00468B"/>
<circle cx="102.4" cy="775.6" r="2.15" fill="#00468B"/>
<circle cx="63.6" cy="788.2" r="2.15" fill="#00468B"/>
<circle cx="57.8" cy="788.6" r="2.15" fill="#00468B"/>
<circle cx="103.8" cy="788.2" r="2.15" fill="#00468B"/>
<circle cx="90.1" cy="796.6" r="2.15" fill="#00468B"/>
<circle cx="74.2" cy="781.5" r="2.15" fill="#00468B"/>
<circle cx="93.8" cy="779.2" r="2.15" fill="#00468B"/>
<circle cx="94.1" cy="788.3" r="2.15" fill="#00468B"/>
<circle cx="67.3" cy="783.2" r="2.15" fill="#00468B"/>
<circle cx="104.1" cy="795.3" r="2.15" fill="#00468B"/>
<circle cx="95.4" cy="796.3" r="2.15" fill="#00468B"/>
<circle cx="92.2" cy="795.5" r="2.15" fill="#00468B"/>
<circle cx="81.5" cy="780.7" r="2.15" fill="#00468B"/>
<circle cx="57.9" cy="783.9" r="2.15" fill="#00468B"/>
<circle cx="70.0" cy="775.7" r="2.15" fill="#00468B"/>
<circle cx="89.9" cy="781.5" r="2.15" fill="#00468B"/>
<circle cx="78.1" cy="836.3" r="2.15" fill="#00468B"/>
<circle cx="104.2" cy="835.6" r="2.15" fill="#00468B"/>
<circle cx="74.1" cy="836.3" r="2.15" fill="#00468B"/>
<circle cx="67.5" cy="808.4" r="2.15" fill="#00468B"/>
<circle cx="66.4" cy="807.5" r="2.15" fill="#00468B"/>
<circle cx="100.0" cy="823.7" r="2.15" fill="#00468B"/>
<circle cx="79.7" cy="831.9" r="2.15" fill="#00468B"/>
<circle cx="95.1" cy="824.8" r="2.15" fill="#00468B"/>
<circle cx="88.4" cy="803.2" r="2.15" fill="#00468B"/>
<circle cx="94.3" cy="834.6" r="2.15" fill="#00468B"/>
<circle cx="79.6" cy="828.5" r="2.15" fill="#00468B"/>
<circle cx="94.6" cy="806.8" r="2.15" fill="#00468B"/>
<circle cx="95.2" cy="812.6" r="2.15" fill="#00468B"/>
<circle cx="75.6" cy="836.9" r="2.15" fill="#00468B"/>
<circle cx="102.2" cy="815.3" r="2.15" fill="#00468B"/>
<circle cx="64.7" cy="827.5" r="2.15" fill="#00468B"/>
<circle cx="63.8" cy="804.8" r="2.15" fill="#00468B"/>
<circle cx="95.5" cy="834.4" r="2.15" fill="#00468B"/>
<circle cx="96.4" cy="805.6" r="2.15" fill="#00468B"/>
<circle cx="88.2" cy="837.3" r="2.15" fill="#00468B"/>
<circle cx="83.0" cy="813.3" r="2.15" fill="#00468B"/>
<circle cx="57.2" cy="805.0" r="2.15" fill="#00468B"/>
<circle cx="87.9" cy="836.9" r="2.15" fill="#00468B"/>
<circle cx="101.6" cy="820.0" r="2.15" fill="#00468B"/>
<circle cx="98.6" cy="816.5" r="2.15" fill="#00468B"/>
<circle cx="66.7" cy="831.4" r="2.15" fill="#00468B"/>
<circle cx="70.7" cy="809.6" r="2.15" fill="#00468B"/>
<circle cx="84.8" cy="809.1" r="2.15" fill="#00468B"/>
<circle cx="76.7" cy="809.9" r="2.15" fill="#00468B"/>
<circle cx="100.5" cy="805.0" r="2.15" fill="#00468B"/>
<circle cx="78.6" cy="813.4" r="2.15" fill="#00468B"/>
<circle cx="100.2" cy="822.2" r="2.15" fill="#00468B"/>
<circle cx="100.8" cy="816.0" r="2.15" fill="#00468B"/>
<circle cx="82.2" cy="819.1" r="2.15" fill="#00468B"/>
<circle cx="57.4" cy="819.9" r="2.15" fill="#00468B"/>
<circle cx="65.3" cy="816.7" r="2.15" fill="#00468B"/>
<circle cx="95.1" cy="800.1" r="2.15" fill="#00468B"/>
<circle cx="79.4" cy="806.5" r="2.15" fill="#00468B"/>
<circle cx="83.4" cy="827.6" r="2.15" fill="#00468B"/>
<circle cx="81.5" cy="812.4" r="2.15" fill="#00468B"/>
<circle cx="94.4" cy="821.1" r="2.15" fill="#00468B"/>
<circle cx="83.6" cy="804.0" r="2.15" fill="#00468B"/>
<circle cx="69.9" cy="809.4" r="2.15" fill="#00468B"/>
<circle cx="81.0" cy="829.3" r="2.15" fill="#00468B"/>
<circle cx="93.2" cy="821.3" r="2.15" fill="#00468B"/>
<circle cx="77.9" cy="834.7" r="2.15" fill="#00468B"/>
<circle cx="80.9" cy="823.3" r="2.15" fill="#00468B"/>
<circle cx="90.0" cy="819.5" r="2.15" fill="#00468B"/>
<circle cx="82.3" cy="817.2" r="2.15" fill="#00468B"/>
<circle cx="102.0" cy="818.2" r="2.15" fill="#00468B"/>
<circle cx="98.8" cy="826.6" r="2.15" fill="#00468B"/>
<circle cx="69.0" cy="835.8" r="2.15" fill="#00468B"/>
<circle cx="102.1" cy="821.3" r="2.15" fill="#00468B"/>
<circle cx="63.1" cy="831.9" r="2.15" fill="#00468B"/>
<circle cx="77.9" cy="804.6" r="2.15" fill="#00468B"/>
<circle cx="68.1" cy="802.8" r="2.15" fill="#00468B"/>
<circle cx="88.8" cy="802.8" r="2.15" fill="#00468B"/>
<circle cx="99.8" cy="829.8" r="2.15" fill="#00468B"/>
<circle cx="91.1" cy="805.9" r="2.15" fill="#00468B"/>
<circle cx="63.4" cy="825.1" r="2.15" fill="#00468B"/>
<circle cx="103.2" cy="833.5" r="2.15" fill="#00468B"/>
<circle cx="102.5" cy="808.3" r="2.15" fill="#00468B"/>
<circle cx="80.0" cy="815.1" r="2.15" fill="#00468B"/>
<circle cx="96.7" cy="837.6" r="2.15" fill="#00468B"/>
<circle cx="77.3" cy="806.1" r="2.15" fill="#00468B"/>
<circle cx="72.9" cy="819.6" r="2.15" fill="#00468B"/>
<circle cx="71.9" cy="807.4" r="2.15" fill="#00468B"/>
<circle cx="57.4" cy="827.4" r="2.15" fill="#00468B"/>
<circle cx="77.8" cy="821.1" r="2.15" fill="#00468B"/>
<circle cx="72.5" cy="800.7" r="2.15" fill="#00468B"/>
<circle cx="81.2" cy="823.7" r="2.15" fill="#00468B"/>
<circle cx="104.1" cy="802.4" r="2.15" fill="#00468B"/>
<circle cx="103.4" cy="830.0" r="2.15" fill="#00468B"/>
<circle cx="69.3" cy="804.0" r="2.15" fill="#00468B"/>
<circle cx="94.1" cy="801.5" r="2.15" fill="#00468B"/>
<circle cx="62.8" cy="810.3" r="2.15" fill="#00468B"/>
<circle cx="100.5" cy="816.0" r="2.15" fill="#00468B"/>
<circle cx="69.0" cy="831.1" r="2.15" fill="#00468B"/>
<circle cx="100.9" cy="805.7" r="2.15" fill="#00468B"/>
<circle cx="90.3" cy="821.7" r="2.15" fill="#00468B"/>
<circle cx="59.3" cy="803.4" r="2.15" fill="#00468B"/>
<circle cx="77.0" cy="826.2" r="2.15" fill="#00468B"/>
<circle cx="101.8" cy="802.8" r="2.15" fill="#00468B"/>
<circle cx="95.2" cy="824.1" r="2.15" fill="#00468B"/>
<circle cx="97.9" cy="803.2" r="2.15" fill="#00468B"/>
<circle cx="98.2" cy="802.5" r="2.15" fill="#00468B"/>
<circle cx="72.9" cy="817.2" r="2.15" fill="#00468B"/>
<circle cx="101.3" cy="821.0" r="2.15" fill="#00468B"/>
<circle cx="62.7" cy="810.2" r="2.15" fill="#00468B"/>
<circle cx="68.0" cy="820.0" r="2.15" fill="#00468B"/>
<circle cx="64.3" cy="804.2" r="2.15" fill="#00468B"/>
<circle cx="66.2" cy="801.9" r="2.15" fill="#00468B"/>
<circle cx="71.2" cy="811.9" r="2.15" fill="#00468B"/>
<circle cx="70.5" cy="828.9" r="2.15" fill="#00468B"/>
<circle cx="65.1" cy="819.0" r="2.15" fill="#00468B"/>
<circle cx="57.4" cy="813.2" r="2.15" fill="#00468B"/>
<circle cx="57.2" cy="809.5" r="2.15" fill="#00468B"/>
<circle cx="83.1" cy="827.9" r="2.15" fill="#00468B"/>
<circle cx="79.4" cy="807.2" r="2.15" fill="#00468B"/>
<circle cx="61.6" cy="835.5" r="2.15" fill="#00468B"/>
<circle cx="77.4" cy="831.1" r="2.15" fill="#00468B"/>
<circle cx="96.8" cy="818.8" r="2.15" fill="#00468B"/>
<circle cx="81.0" cy="814.9" r="2.15" fill="#00468B"/>
<circle cx="104.0" cy="826.1" r="2.15" fill="#00468B"/>
<circle cx="60.1" cy="840.0" r="2.15" fill="#00468B"/>
<circle cx="63.1" cy="843.0" r="2.15" fill="#00468B"/>
<circle cx="66.1" cy="844.0" r="2.15" fill="#00468B"/>
<circle cx="61.1" cy="846.0" r="2.15" fill="#00468B"/>
<circle cx="71.1" cy="842.0" r="2.15" fill="#00468B"/>
<circle cx="72.1" cy="844.0" r="2.15" fill="#00468B"/>
<circle cx="77.1" cy="841.0" r="2.15" fill="#00468B"/>
<circle cx="78.1" cy="844.0" r="2.15" fill="#00468B"/>
<circle cx="83.2" cy="840.0" r="2.15" fill="#00468B"/>
<circle cx="87.2" cy="842.0" r="2.15" fill="#00468B"/>
<circle cx="89.2" cy="841.0" r="2.15" fill="#00468B"/>
<circle cx="94.2" cy="843.0" r="2.15" fill="#00468B"/>
<circle cx="95.2" cy="846.6" r="2.15" fill="#00468B"/>
<circle cx="100.2" cy="845.0" r="2.15" fill="#00468B"/>
<circle cx="76.1" cy="848.0" r="2.15" fill="#00468B"/>
<circle cx="82.2" cy="848.0" r="2.15" fill="#00468B"/>
<circle cx="87.2" cy="850.1" r="2.15" fill="#00468B"/>
<circle cx="98.2" cy="850.1" r="2.15" fill="#00468B"/>
<circle cx="66.1" cy="852.7" r="2.15" fill="#00468B"/>
<circle cx="70.1" cy="852.7" r="2.15" fill="#00468B"/>
<circle cx="76.1" cy="851.5" r="2.15" fill="#00468B"/>
<circle cx="76.1" cy="854.1" r="2.15" fill="#00468B"/>
<circle cx="83.2" cy="853.1" r="2.15" fill="#00468B"/>
<circle cx="87.2" cy="854.1" r="2.15" fill="#00468B"/>
<circle cx="98.2" cy="854.7" r="2.15" fill="#00468B"/>
<circle cx="80.2" cy="858.1" r="2.15" fill="#00468B"/>
<circle cx="84.2" cy="859.1" r="2.15" fill="#00468B"/>
<circle cx="89.2" cy="860.1" r="2.15" fill="#00468B"/>
<circle cx="92.2" cy="860.1" r="2.15" fill="#00468B"/>
<circle cx="91.2" cy="862.1" r="2.15" fill="#00468B"/>
<circle cx="59.1" cy="860.1" r="2.15" fill="#00468B"/>
<circle cx="62.1" cy="861.1" r="2.15" fill="#00468B"/>
<circle cx="73.1" cy="861.1" r="2.15" fill="#00468B"/>
<circle cx="64.1" cy="867.5" r="2.15" fill="#00468B"/>
<circle cx="68.1" cy="868.1" r="2.15" fill="#00468B"/>
<circle cx="70.1" cy="867.1" r="2.15" fill="#00468B"/>
<circle cx="67.1" cy="870.1" r="2.15" fill="#00468B"/>
<circle cx="72.1" cy="872.1" r="2.15" fill="#00468B"/>
<circle cx="60.1" cy="872.7" r="2.15" fill="#00468B"/>
<circle cx="59.1" cy="877.6" r="2.15" fill="#00468B"/>
<circle cx="97.2" cy="875.6" r="2.15" fill="#00468B"/>
<circle cx="102.6" cy="876.2" r="2.15" fill="#00468B"/>
<circle cx="84.2" cy="876.8" r="2.15" fill="#00468B"/>
<circle cx="84.6" cy="879.6" r="2.15" fill="#00468B"/>
<circle cx="94.2" cy="880.2" r="2.15" fill="#00468B"/>
<circle cx="89.2" cy="882.2" r="2.15" fill="#00468B"/>
<circle cx="86.2" cy="882.2" r="2.15" fill="#00468B"/>
<circle cx="81.2" cy="884.2" r="2.15" fill="#00468B"/>
<circle cx="95.2" cy="886.2" r="2.15" fill="#00468B"/>
<circle cx="62.1" cy="889.2" r="2.15" fill="#00468B"/>
<circle cx="70.1" cy="887.6" r="2.15" fill="#00468B"/>
<circle cx="100.2" cy="888.2" r="2.15" fill="#00468B"/>
<circle cx="94.2" cy="891.2" r="2.15" fill="#00468B"/>
<circle cx="98.2" cy="892.8" r="2.15" fill="#00468B"/>
<circle cx="82.6" cy="892.8" r="2.15" fill="#00468B"/>
<circle cx="87.8" cy="895.2" r="2.15" fill="#00468B"/>
<circle cx="103.2" cy="899.2" r="2.15" fill="#00468B"/>
<circle cx="78.5" cy="900.9" r="2.15" fill="#00468B"/>
<circle cx="64.1" cy="903.3" r="2.15" fill="#00468B"/>
<circle cx="67.1" cy="904.9" r="2.15" fill="#00468B"/>
<circle cx="70.1" cy="905.3" r="2.15" fill="#00468B"/>
<circle cx="85.2" cy="904.7" r="2.15" fill="#00468B"/>
<circle cx="101.2" cy="904.7" r="2.15" fill="#00468B"/>
<circle cx="73.1" cy="910.9" r="2.15" fill="#00468B"/>
<circle cx="64.1" cy="913.3" r="2.15" fill="#00468B"/>
<circle cx="83.2" cy="913.3" r="2.15" fill="#00468B"/>
<circle cx="159.2" cy="688.4" r="2.15" fill="#ED0000"/>
<circle cx="166.2" cy="688.4" r="2.15" fill="#ED0000"/>
<circle cx="163.7" cy="711.0" r="2.15" fill="#ED0000"/>
<circle cx="180.2" cy="722.1" r="2.15" fill="#ED0000"/>
<circle cx="175.7" cy="723.4" r="2.15" fill="#ED0000"/>
<circle cx="172.7" cy="726.8" r="2.15" fill="#ED0000"/>
<circle cx="158.3" cy="728.4" r="2.15" fill="#ED0000"/>
<circle cx="154.2" cy="730.7" r="2.15" fill="#ED0000"/>
<circle cx="179.1" cy="735.2" r="2.15" fill="#ED0000"/>
<circle cx="183.1" cy="735.8" r="2.15" fill="#ED0000"/>
<circle cx="158.7" cy="736.8" r="2.15" fill="#ED0000"/>
<circle cx="147.4" cy="738.1" r="2.15" fill="#ED0000"/>
<circle cx="163.2" cy="739.0" r="2.15" fill="#ED0000"/>
<circle cx="167.3" cy="740.8" r="2.15" fill="#ED0000"/>
<circle cx="146.3" cy="740.8" r="2.15" fill="#ED0000"/>
<circle cx="180.2" cy="741.9" r="2.15" fill="#ED0000"/>
<circle cx="142.5" cy="743.1" r="2.15" fill="#ED0000"/>
<circle cx="140.7" cy="745.3" r="2.15" fill="#ED0000"/>
<circle cx="165.5" cy="747.1" r="2.15" fill="#ED0000"/>
<circle cx="178.6" cy="746.5" r="2.15" fill="#ED0000"/>
<circle cx="137.9" cy="748.7" r="2.15" fill="#ED0000"/>
<circle cx="136.1" cy="751.7" r="2.15" fill="#ED0000"/>
<circle cx="141.8" cy="749.9" r="2.15" fill="#ED0000"/>
<circle cx="147.4" cy="751.7" r="2.15" fill="#ED0000"/>
<circle cx="167.3" cy="751.7" r="2.15" fill="#ED0000"/>
<circle cx="173.4" cy="753.9" r="2.15" fill="#ED0000"/>
<circle cx="159.9" cy="753.9" r="2.15" fill="#ED0000"/>
<circle cx="136.1" cy="760.0" r="2.15" fill="#ED0000"/>
<circle cx="144.0" cy="757.8" r="2.15" fill="#ED0000"/>
<circle cx="145.2" cy="760.7" r="2.15" fill="#ED0000"/>
<circle cx="149.7" cy="761.1" r="2.15" fill="#ED0000"/>
<circle cx="153.8" cy="757.8" r="2.15" fill="#ED0000"/>
<circle cx="156.5" cy="756.6" r="2.15" fill="#ED0000"/>
<circle cx="163.2" cy="760.7" r="2.15" fill="#ED0000"/>
<circle cx="177.9" cy="762.3" r="2.15" fill="#ED0000"/>
<circle cx="179.5" cy="764.5" r="2.15" fill="#ED0000"/>
<circle cx="138.4" cy="765.7" r="2.15" fill="#ED0000"/>
<circle cx="140.7" cy="766.8" r="2.15" fill="#ED0000"/>
<circle cx="148.6" cy="765.2" r="2.15" fill="#ED0000"/>
<circle cx="150.8" cy="766.8" r="2.15" fill="#ED0000"/>
<circle cx="159.9" cy="765.7" r="2.15" fill="#ED0000"/>
<circle cx="165.5" cy="766.8" r="2.15" fill="#ED0000"/>
<circle cx="170.0" cy="765.2" r="2.15" fill="#ED0000"/>
<circle cx="136.1" cy="769.0" r="2.15" fill="#ED0000"/>
<circle cx="142.9" cy="771.3" r="2.15" fill="#ED0000"/>
<circle cx="147.4" cy="770.2" r="2.15" fill="#ED0000"/>
<circle cx="156.5" cy="770.2" r="2.15" fill="#ED0000"/>
<circle cx="161.0" cy="771.3" r="2.15" fill="#ED0000"/>
<circle cx="167.8" cy="769.0" r="2.15" fill="#ED0000"/>
<circle cx="174.5" cy="769.0" r="2.15" fill="#ED0000"/>
<circle cx="179.1" cy="771.3" r="2.15" fill="#ED0000"/>
<circle cx="176.1" cy="754.9" r="2.15" fill="#ED0000"/>
<circle cx="166.9" cy="762.1" r="2.15" fill="#ED0000"/>
<circle cx="153.3" cy="756.1" r="2.15" fill="#ED0000"/>
<circle cx="143.1" cy="749.1" r="2.15" fill="#ED0000"/>
<circle cx="171.8" cy="749.4" r="2.15" fill="#ED0000"/>
<circle cx="144.7" cy="753.1" r="2.15" fill="#ED0000"/>
<circle cx="176.5" cy="749.7" r="2.15" fill="#ED0000"/>
<circle cx="168.5" cy="765.4" r="2.15" fill="#ED0000"/>
<circle cx="148.4" cy="753.6" r="2.15" fill="#ED0000"/>
<circle cx="158.6" cy="753.9" r="2.15" fill="#ED0000"/>
<circle cx="158.0" cy="751.2" r="2.15" fill="#ED0000"/>
<circle cx="182.2" cy="753.3" r="2.15" fill="#ED0000"/>
<circle cx="162.7" cy="767.5" r="2.15" fill="#ED0000"/>
<circle cx="182.4" cy="752.9" r="2.15" fill="#ED0000"/>
<circle cx="153.5" cy="773.6" r="2.15" fill="#ED0000"/>
<circle cx="154.7" cy="768.0" r="2.15" fill="#ED0000"/>
<circle cx="160.6" cy="776.5" r="2.15" fill="#ED0000"/>
<circle cx="160.7" cy="771.6" r="2.15" fill="#ED0000"/>
<circle cx="148.9" cy="768.1" r="2.15" fill="#ED0000"/>
<circle cx="155.6" cy="769.6" r="2.15" fill="#ED0000"/>
<circle cx="137.1" cy="768.8" r="2.15" fill="#ED0000"/>
<circle cx="147.4" cy="773.5" r="2.15" fill="#ED0000"/>
<circle cx="161.9" cy="778.5" r="2.15" fill="#ED0000"/>
<circle cx="168.2" cy="781.5" r="2.15" fill="#ED0000"/>
<circle cx="179.1" cy="780.9" r="2.15" fill="#ED0000"/>
<circle cx="152.0" cy="775.0" r="2.15" fill="#ED0000"/>
<circle cx="143.3" cy="785.7" r="2.15" fill="#ED0000"/>
<circle cx="167.5" cy="781.0" r="2.15" fill="#ED0000"/>
<circle cx="176.9" cy="768.8" r="2.15" fill="#ED0000"/>
<circle cx="166.7" cy="784.1" r="2.15" fill="#ED0000"/>
<circle cx="175.8" cy="781.2" r="2.15" fill="#ED0000"/>
<circle cx="161.7" cy="770.5" r="2.15" fill="#ED0000"/>
<circle cx="176.9" cy="777.1" r="2.15" fill="#ED0000"/>
<circle cx="176.5" cy="782.5" r="2.15" fill="#ED0000"/>
<circle cx="179.7" cy="778.5" r="2.15" fill="#ED0000"/>
<circle cx="170.0" cy="780.3" r="2.15" fill="#ED0000"/>
<circle cx="137.5" cy="772.1" r="2.15" fill="#ED0000"/>
<circle cx="153.7" cy="770.4" r="2.15" fill="#ED0000"/>
<circle cx="177.0" cy="769.9" r="2.15" fill="#ED0000"/>
<circle cx="166.8" cy="778.1" r="2.15" fill="#ED0000"/>
<circle cx="169.4" cy="779.3" r="2.15" fill="#ED0000"/>
<circle cx="136.2" cy="776.8" r="2.15" fill="#ED0000"/>
<circle cx="172.7" cy="782.4" r="2.15" fill="#ED0000"/>
<circle cx="162.2" cy="777.1" r="2.15" fill="#ED0000"/>
<circle cx="139.2" cy="779.9" r="2.15" fill="#ED0000"/>
<circle cx="148.4" cy="781.3" r="2.15" fill="#ED0000"/>
<circle cx="149.0" cy="769.3" r="2.15" fill="#ED0000"/>
<circle cx="146.1" cy="781.1" r="2.15" fill="#ED0000"/>
<circle cx="184.6" cy="809.7" r="2.15" fill="#ED0000"/>
<circle cx="154.6" cy="801.8" r="2.15" fill="#ED0000"/>
<circle cx="169.8" cy="801.3" r="2.15" fill="#ED0000"/>
<circle cx="166.5" cy="810.5" r="2.15" fill="#ED0000"/>
<circle cx="139.2" cy="806.6" r="2.15" fill="#ED0000"/>
<circle cx="148.1" cy="790.7" r="2.15" fill="#ED0000"/>
<circle cx="150.7" cy="809.8" r="2.15" fill="#ED0000"/>
<circle cx="135.9" cy="804.2" r="2.15" fill="#ED0000"/>
<circle cx="148.9" cy="787.9" r="2.15" fill="#ED0000"/>
<circle cx="170.3" cy="807.5" r="2.15" fill="#ED0000"/>
<circle cx="150.0" cy="807.6" r="2.15" fill="#ED0000"/>
<circle cx="158.8" cy="802.5" r="2.15" fill="#ED0000"/>
<circle cx="141.3" cy="800.9" r="2.15" fill="#ED0000"/>
<circle cx="145.4" cy="814.6" r="2.15" fill="#ED0000"/>
<circle cx="182.6" cy="817.3" r="2.15" fill="#ED0000"/>
<circle cx="158.5" cy="786.6" r="2.15" fill="#ED0000"/>
<circle cx="184.2" cy="812.2" r="2.15" fill="#ED0000"/>
<circle cx="148.9" cy="800.4" r="2.15" fill="#ED0000"/>
<circle cx="183.1" cy="792.7" r="2.15" fill="#ED0000"/>
<circle cx="164.7" cy="792.7" r="2.15" fill="#ED0000"/>
<circle cx="161.8" cy="790.5" r="2.15" fill="#ED0000"/>
<circle cx="142.0" cy="816.5" r="2.15" fill="#ED0000"/>
<circle cx="161.0" cy="812.2" r="2.15" fill="#ED0000"/>
<circle cx="170.8" cy="814.4" r="2.15" fill="#ED0000"/>
<circle cx="180.6" cy="793.4" r="2.15" fill="#ED0000"/>
<circle cx="136.6" cy="801.6" r="2.15" fill="#ED0000"/>
<circle cx="160.1" cy="786.1" r="2.15" fill="#ED0000"/>
<circle cx="150.5" cy="800.4" r="2.15" fill="#ED0000"/>
<circle cx="152.7" cy="790.5" r="2.15" fill="#ED0000"/>
<circle cx="177.7" cy="796.1" r="2.15" fill="#ED0000"/>
<circle cx="173.2" cy="786.1" r="2.15" fill="#ED0000"/>
<circle cx="141.4" cy="812.9" r="2.15" fill="#ED0000"/>
<circle cx="171.3" cy="815.6" r="2.15" fill="#ED0000"/>
<circle cx="149.9" cy="814.9" r="2.15" fill="#ED0000"/>
<circle cx="155.1" cy="797.9" r="2.15" fill="#ED0000"/>
<circle cx="165.1" cy="818.0" r="2.15" fill="#ED0000"/>
<circle cx="156.9" cy="797.5" r="2.15" fill="#ED0000"/>
<circle cx="137.7" cy="794.8" r="2.15" fill="#ED0000"/>
<circle cx="177.5" cy="789.3" r="2.15" fill="#ED0000"/>
<circle cx="182.5" cy="795.1" r="2.15" fill="#ED0000"/>
<circle cx="148.7" cy="794.0" r="2.15" fill="#ED0000"/>
<circle cx="144.9" cy="802.4" r="2.15" fill="#ED0000"/>
<circle cx="183.6" cy="797.9" r="2.15" fill="#ED0000"/>
<circle cx="176.3" cy="814.3" r="2.15" fill="#ED0000"/>
<circle cx="181.4" cy="806.2" r="2.15" fill="#ED0000"/>
<circle cx="163.0" cy="816.1" r="2.15" fill="#ED0000"/>
<circle cx="137.8" cy="809.0" r="2.15" fill="#ED0000"/>
<circle cx="158.1" cy="809.4" r="2.15" fill="#ED0000"/>
<circle cx="167.8" cy="810.1" r="2.15" fill="#ED0000"/>
<circle cx="137.8" cy="795.2" r="2.15" fill="#ED0000"/>
<circle cx="141.7" cy="815.7" r="2.15" fill="#ED0000"/>
<circle cx="152.7" cy="801.1" r="2.15" fill="#ED0000"/>
<circle cx="172.6" cy="795.5" r="2.15" fill="#ED0000"/>
<circle cx="148.4" cy="817.2" r="2.15" fill="#ED0000"/>
<circle cx="150.5" cy="807.0" r="2.15" fill="#ED0000"/>
<circle cx="155.2" cy="803.8" r="2.15" fill="#ED0000"/>
<circle cx="143.5" cy="791.4" r="2.15" fill="#ED0000"/>
<circle cx="181.1" cy="792.7" r="2.15" fill="#ED0000"/>
<circle cx="146.4" cy="801.9" r="2.15" fill="#ED0000"/>
<circle cx="185.6" cy="815.0" r="2.15" fill="#ED0000"/>
<circle cx="142.3" cy="800.4" r="2.15" fill="#ED0000"/>
<circle cx="139.9" cy="792.2" r="2.15" fill="#ED0000"/>
<circle cx="139.9" cy="796.9" r="2.15" fill="#ED0000"/>
<circle cx="148.3" cy="793.7" r="2.15" fill="#ED0000"/>
<circle cx="180.1" cy="804.2" r="2.15" fill="#ED0000"/>
<circle cx="156.1" cy="810.0" r="2.15" fill="#ED0000"/>
<circle cx="161.8" cy="799.2" r="2.15" fill="#ED0000"/>
<circle cx="152.4" cy="798.1" r="2.15" fill="#ED0000"/>
<circle cx="149.3" cy="788.0" r="2.15" fill="#ED0000"/>
<circle cx="141.7" cy="817.0" r="2.15" fill="#ED0000"/>
<circle cx="167.1" cy="802.1" r="2.15" fill="#ED0000"/>
<circle cx="146.2" cy="813.6" r="2.15" fill="#ED0000"/>
<circle cx="147.8" cy="794.7" r="2.15" fill="#ED0000"/>
<circle cx="157.8" cy="798.8" r="2.15" fill="#ED0000"/>
<circle cx="178.2" cy="816.5" r="2.15" fill="#ED0000"/>
<circle cx="136.4" cy="813.9" r="2.15" fill="#ED0000"/>
<circle cx="171.1" cy="787.0" r="2.15" fill="#ED0000"/>
<circle cx="159.2" cy="814.7" r="2.15" fill="#ED0000"/>
<circle cx="135.3" cy="804.8" r="2.15" fill="#ED0000"/>
<circle cx="182.1" cy="798.5" r="2.15" fill="#ED0000"/>
<circle cx="178.5" cy="812.4" r="2.15" fill="#ED0000"/>
<circle cx="147.8" cy="817.1" r="2.15" fill="#ED0000"/>
<circle cx="143.1" cy="789.5" r="2.15" fill="#ED0000"/>
<circle cx="169.7" cy="802.7" r="2.15" fill="#ED0000"/>
<circle cx="171.7" cy="816.1" r="2.15" fill="#ED0000"/>
<circle cx="173.9" cy="806.7" r="2.15" fill="#ED0000"/>
<circle cx="163.2" cy="800.6" r="2.15" fill="#ED0000"/>
<circle cx="174.8" cy="787.3" r="2.15" fill="#ED0000"/>
<circle cx="181.8" cy="793.4" r="2.15" fill="#ED0000"/>
<circle cx="150.6" cy="806.7" r="2.15" fill="#ED0000"/>
<circle cx="148.0" cy="790.1" r="2.15" fill="#ED0000"/>
<circle cx="170.6" cy="806.4" r="2.15" fill="#ED0000"/>
<circle cx="138.9" cy="789.6" r="2.15" fill="#ED0000"/>
<circle cx="164.7" cy="802.8" r="2.15" fill="#ED0000"/>
<circle cx="146.6" cy="798.4" r="2.15" fill="#ED0000"/>
<circle cx="135.8" cy="805.2" r="2.15" fill="#ED0000"/>
<circle cx="158.6" cy="795.6" r="2.15" fill="#ED0000"/>
<circle cx="167.9" cy="816.7" r="2.15" fill="#ED0000"/>
<circle cx="159.3" cy="814.3" r="2.15" fill="#ED0000"/>
<circle cx="147.8" cy="793.5" r="2.15" fill="#ED0000"/>
<circle cx="170.9" cy="816.7" r="2.15" fill="#ED0000"/>
<circle cx="136.4" cy="795.8" r="2.15" fill="#ED0000"/>
<circle cx="169.4" cy="801.9" r="2.15" fill="#ED0000"/>
<circle cx="148.3" cy="799.4" r="2.15" fill="#ED0000"/>
<circle cx="182.0" cy="836.0" r="2.15" fill="#ED0000"/>
<circle cx="137.0" cy="824.1" r="2.15" fill="#ED0000"/>
<circle cx="156.5" cy="827.1" r="2.15" fill="#ED0000"/>
<circle cx="145.3" cy="836.4" r="2.15" fill="#ED0000"/>
<circle cx="172.6" cy="839.5" r="2.15" fill="#ED0000"/>
<circle cx="145.7" cy="831.6" r="2.15" fill="#ED0000"/>
<circle cx="151.0" cy="844.2" r="2.15" fill="#ED0000"/>
<circle cx="147.0" cy="840.1" r="2.15" fill="#ED0000"/>
<circle cx="173.7" cy="824.0" r="2.15" fill="#ED0000"/>
<circle cx="183.4" cy="826.0" r="2.15" fill="#ED0000"/>
<circle cx="144.8" cy="831.4" r="2.15" fill="#ED0000"/>
<circle cx="156.4" cy="824.0" r="2.15" fill="#ED0000"/>
<circle cx="183.2" cy="836.0" r="2.15" fill="#ED0000"/>
<circle cx="155.2" cy="822.0" r="2.15" fill="#ED0000"/>
<circle cx="184.5" cy="823.7" r="2.15" fill="#ED0000"/>
<circle cx="137.9" cy="821.8" r="2.15" fill="#ED0000"/>
<circle cx="155.2" cy="819.6" r="2.15" fill="#ED0000"/>
<circle cx="179.9" cy="842.3" r="2.15" fill="#ED0000"/>
<circle cx="185.7" cy="837.8" r="2.15" fill="#ED0000"/>
<circle cx="151.9" cy="843.2" r="2.15" fill="#ED0000"/>
<circle cx="182.6" cy="823.0" r="2.15" fill="#ED0000"/>
<circle cx="136.9" cy="838.2" r="2.15" fill="#ED0000"/>
<circle cx="154.4" cy="835.9" r="2.15" fill="#ED0000"/>
<circle cx="152.1" cy="828.1" r="2.15" fill="#ED0000"/>
<circle cx="135.4" cy="822.6" r="2.15" fill="#ED0000"/>
<circle cx="153.0" cy="825.6" r="2.15" fill="#ED0000"/>
<circle cx="141.5" cy="843.8" r="2.15" fill="#ED0000"/>
<circle cx="145.8" cy="844.0" r="2.15" fill="#ED0000"/>
<circle cx="176.8" cy="827.6" r="2.15" fill="#ED0000"/>
<circle cx="157.1" cy="840.2" r="2.15" fill="#ED0000"/>
<circle cx="159.2" cy="819.3" r="2.15" fill="#ED0000"/>
<circle cx="181.7" cy="828.1" r="2.15" fill="#ED0000"/>
<circle cx="153.7" cy="823.2" r="2.15" fill="#ED0000"/>
<circle cx="136.8" cy="842.2" r="2.15" fill="#ED0000"/>
<circle cx="176.3" cy="829.1" r="2.15" fill="#ED0000"/>
<circle cx="137.4" cy="838.7" r="2.15" fill="#ED0000"/>
<circle cx="138.5" cy="818.9" r="2.15" fill="#ED0000"/>
<circle cx="148.3" cy="842.8" r="2.15" fill="#ED0000"/>
<circle cx="180.7" cy="838.2" r="2.15" fill="#ED0000"/>
<circle cx="149.1" cy="827.2" r="2.15" fill="#ED0000"/>
<circle cx="166.5" cy="843.9" r="2.15" fill="#ED0000"/>
<circle cx="171.5" cy="825.1" r="2.15" fill="#ED0000"/>
<circle cx="149.2" cy="826.5" r="2.15" fill="#ED0000"/>
<circle cx="173.5" cy="818.1" r="2.15" fill="#ED0000"/>
<circle cx="167.3" cy="842.7" r="2.15" fill="#ED0000"/>
<circle cx="136.5" cy="843.5" r="2.15" fill="#ED0000"/>
<circle cx="159.3" cy="824.3" r="2.15" fill="#ED0000"/>
<circle cx="183.5" cy="843.8" r="2.15" fill="#ED0000"/>
<circle cx="148.0" cy="828.4" r="2.15" fill="#ED0000"/>
<circle cx="160.2" cy="829.6" r="2.15" fill="#ED0000"/>
<circle cx="144.5" cy="843.1" r="2.15" fill="#ED0000"/>
<circle cx="172.6" cy="839.7" r="2.15" fill="#ED0000"/>
<circle cx="174.3" cy="840.2" r="2.15" fill="#ED0000"/>
<circle cx="151.9" cy="834.4" r="2.15" fill="#ED0000"/>
<circle cx="153.6" cy="826.6" r="2.15" fill="#ED0000"/>
<circle cx="139.3" cy="839.1" r="2.15" fill="#ED0000"/>
<circle cx="173.3" cy="823.3" r="2.15" fill="#ED0000"/>
<circle cx="138.6" cy="824.7" r="2.15" fill="#ED0000"/>
<circle cx="163.2" cy="818.9" r="2.15" fill="#ED0000"/>
<circle cx="184.8" cy="826.8" r="2.15" fill="#ED0000"/>
<circle cx="185.2" cy="841.9" r="2.15" fill="#ED0000"/>
<circle cx="139.5" cy="825.2" r="2.15" fill="#ED0000"/>
<circle cx="160.5" cy="820.6" r="2.15" fill="#ED0000"/>
<circle cx="157.9" cy="837.2" r="2.15" fill="#ED0000"/>
<circle cx="156.4" cy="824.3" r="2.15" fill="#ED0000"/>
<circle cx="169.3" cy="834.7" r="2.15" fill="#ED0000"/>
<circle cx="178.1" cy="838.2" r="2.15" fill="#ED0000"/>
<circle cx="141.4" cy="835.9" r="2.15" fill="#ED0000"/>
<circle cx="150.1" cy="840.7" r="2.15" fill="#ED0000"/>
<circle cx="154.1" cy="833.3" r="2.15" fill="#ED0000"/>
<circle cx="145.4" cy="837.9" r="2.15" fill="#ED0000"/>
<circle cx="147.7" cy="824.7" r="2.15" fill="#ED0000"/>
<circle cx="180.0" cy="822.1" r="2.15" fill="#ED0000"/>
<circle cx="151.8" cy="833.6" r="2.15" fill="#ED0000"/>
<circle cx="185.4" cy="828.7" r="2.15" fill="#ED0000"/>
<circle cx="147.0" cy="831.7" r="2.15" fill="#ED0000"/>
<circle cx="168.3" cy="839.8" r="2.15" fill="#ED0000"/>
<circle cx="140.5" cy="844.8" r="2.15" fill="#ED0000"/>
<circle cx="176.7" cy="830.8" r="2.15" fill="#ED0000"/>
<circle cx="181.5" cy="840.7" r="2.15" fill="#ED0000"/>
<circle cx="150.1" cy="819.1" r="2.15" fill="#ED0000"/>
<circle cx="144.9" cy="821.2" r="2.15" fill="#ED0000"/>
<circle cx="164.8" cy="844.3" r="2.15" fill="#ED0000"/>
<circle cx="154.1" cy="843.1" r="2.15" fill="#ED0000"/>
<circle cx="158.0" cy="841.4" r="2.15" fill="#ED0000"/>
<circle cx="174.6" cy="825.0" r="2.15" fill="#ED0000"/>
<circle cx="140.6" cy="843.5" r="2.15" fill="#ED0000"/>
<circle cx="166.6" cy="834.1" r="2.15" fill="#ED0000"/>
<circle cx="153.9" cy="823.9" r="2.15" fill="#ED0000"/>
<circle cx="145.6" cy="821.8" r="2.15" fill="#ED0000"/>
<circle cx="165.6" cy="824.9" r="2.15" fill="#ED0000"/>
<circle cx="145.6" cy="835.6" r="2.15" fill="#ED0000"/>
<circle cx="151.8" cy="818.3" r="2.15" fill="#ED0000"/>
<circle cx="144.6" cy="836.3" r="2.15" fill="#ED0000"/>
<circle cx="145.6" cy="826.4" r="2.15" fill="#ED0000"/>
<circle cx="163.0" cy="839.5" r="2.15" fill="#ED0000"/>
<circle cx="140.4" cy="819.7" r="2.15" fill="#ED0000"/>
<circle cx="163.1" cy="828.7" r="2.15" fill="#ED0000"/>
<circle cx="139.9" cy="835.3" r="2.15" fill="#ED0000"/>
<circle cx="170.4" cy="822.4" r="2.15" fill="#ED0000"/>
<circle cx="149.6" cy="829.1" r="2.15" fill="#ED0000"/>
<circle cx="183.4" cy="826.3" r="2.15" fill="#ED0000"/>
<circle cx="163.9" cy="826.4" r="2.15" fill="#ED0000"/>
<circle cx="156.3" cy="827.6" r="2.15" fill="#ED0000"/>
<circle cx="138.4" cy="846.0" r="2.15" fill="#ED0000"/>
<circle cx="141.4" cy="849.1" r="2.15" fill="#ED0000"/>
<circle cx="144.4" cy="847.0" r="2.15" fill="#ED0000"/>
<circle cx="149.4" cy="850.1" r="2.15" fill="#ED0000"/>
<circle cx="156.4" cy="848.0" r="2.15" fill="#ED0000"/>
<circle cx="160.5" cy="847.0" r="2.15" fill="#ED0000"/>
<circle cx="165.5" cy="849.1" r="2.15" fill="#ED0000"/>
<circle cx="170.5" cy="846.0" r="2.15" fill="#ED0000"/>
<circle cx="174.5" cy="850.1" r="2.15" fill="#ED0000"/>
<circle cx="180.5" cy="848.0" r="2.15" fill="#ED0000"/>
<circle cx="183.5" cy="847.0" r="2.15" fill="#ED0000"/>
<circle cx="152.4" cy="850.1" r="2.15" fill="#ED0000"/>
<circle cx="158.5" cy="851.1" r="2.15" fill="#ED0000"/>
<circle cx="143.4" cy="855.1" r="2.15" fill="#ED0000"/>
<circle cx="150.4" cy="855.1" r="2.15" fill="#ED0000"/>
<circle cx="164.5" cy="854.1" r="2.15" fill="#ED0000"/>
<circle cx="168.5" cy="855.1" r="2.15" fill="#ED0000"/>
<circle cx="171.5" cy="855.1" r="2.15" fill="#ED0000"/>
<circle cx="178.5" cy="855.1" r="2.15" fill="#ED0000"/>
<circle cx="142.4" cy="858.1" r="2.15" fill="#ED0000"/>
<circle cx="145.4" cy="860.1" r="2.15" fill="#ED0000"/>
<circle cx="136.4" cy="861.1" r="2.15" fill="#ED0000"/>
<circle cx="149.4" cy="861.1" r="2.15" fill="#ED0000"/>
<circle cx="153.4" cy="863.1" r="2.15" fill="#ED0000"/>
<circle cx="156.4" cy="863.1" r="2.15" fill="#ED0000"/>
<circle cx="160.5" cy="863.1" r="2.15" fill="#ED0000"/>
<circle cx="162.5" cy="861.5" r="2.15" fill="#ED0000"/>
<circle cx="173.5" cy="864.1" r="2.15" fill="#ED0000"/>
<circle cx="178.5" cy="865.1" r="2.15" fill="#ED0000"/>
<circle cx="136.4" cy="867.1" r="2.15" fill="#ED0000"/>
<circle cx="141.4" cy="867.1" r="2.15" fill="#ED0000"/>
<circle cx="144.4" cy="868.1" r="2.15" fill="#ED0000"/>
<circle cx="149.4" cy="870.1" r="2.15" fill="#ED0000"/>
<circle cx="160.5" cy="870.1" r="2.15" fill="#ED0000"/>
<circle cx="164.5" cy="869.1" r="2.15" fill="#ED0000"/>
<circle cx="178.5" cy="869.1" r="2.15" fill="#ED0000"/>
<circle cx="182.5" cy="870.1" r="2.15" fill="#ED0000"/>
<circle cx="139.4" cy="874.1" r="2.15" fill="#ED0000"/>
<circle cx="140.4" cy="876.2" r="2.15" fill="#ED0000"/>
<circle cx="149.4" cy="876.2" r="2.15" fill="#ED0000"/>
<circle cx="158.5" cy="878.2" r="2.15" fill="#ED0000"/>
<circle cx="167.5" cy="874.1" r="2.15" fill="#ED0000"/>
<circle cx="169.5" cy="876.2" r="2.15" fill="#ED0000"/>
<circle cx="181.5" cy="876.2" r="2.15" fill="#ED0000"/>
<circle cx="145.4" cy="881.6" r="2.15" fill="#ED0000"/>
<circle cx="140.4" cy="882.2" r="2.15" fill="#ED0000"/>
<circle cx="136.4" cy="884.8" r="2.15" fill="#ED0000"/>
<circle cx="158.5" cy="881.2" r="2.15" fill="#ED0000"/>
<circle cx="157.4" cy="885.6" r="2.15" fill="#ED0000"/>
<circle cx="178.5" cy="882.2" r="2.15" fill="#ED0000"/>
<circle cx="180.5" cy="887.2" r="2.15" fill="#ED0000"/>
<circle cx="168.5" cy="887.2" r="2.15" fill="#ED0000"/>
<circle cx="137.4" cy="889.6" r="2.15" fill="#ED0000"/>
<circle cx="173.5" cy="890.2" r="2.15" fill="#ED0000"/>
<circle cx="144.4" cy="892.2" r="2.15" fill="#ED0000"/>
<circle cx="150.4" cy="893.2" r="2.15" fill="#ED0000"/>
<circle cx="167.5" cy="894.2" r="2.15" fill="#ED0000"/>
<circle cx="180.5" cy="897.6" r="2.15" fill="#ED0000"/>
<circle cx="145.4" cy="905.3" r="2.15" fill="#ED0000"/>
<circle cx="150.0" cy="903.7" r="2.15" fill="#ED0000"/>
<circle cx="176.5" cy="906.9" r="2.15" fill="#ED0000"/>
<circle cx="151.4" cy="910.9" r="2.15" fill="#ED0000"/>
<circle cx="149.4" cy="916.3" r="2.15" fill="#ED0000"/>
<circle cx="161.9" cy="916.9" r="2.15" fill="#ED0000"/>
<circle cx="153.4" cy="921.3" r="2.15" fill="#ED0000"/>
<circle cx="142.8" cy="950.8" r="2.15" fill="#ED0000"/>
<circle cx="159.5" cy="950.8" r="2.15" fill="#ED0000"/>
<text x="436.90" y="705.90" font-size="11.25" text-anchor="end" fill="#000" stroke="#000" stroke-width="0.28" stroke-linejoin="round" >AKT inhibitor</text>
<circle cx="445.80" cy="703.00" r="2.4" fill="#e3e3e3"/>
<circle cx="462.85" cy="703.00" r="2.4" fill="#e3e3e3"/>
<circle cx="479.90" cy="703.00" r="2.4" fill="#e3e3e3"/>
<circle cx="496.95" cy="703.00" r="2.4" fill="#e3e3e3"/>
<circle cx="514.00" cy="703.00" r="2.4" fill="#e3e3e3"/>
<circle cx="531.05" cy="703.00" r="2.4" fill="#e3e3e3"/>
<circle cx="548.10" cy="703.00" r="2.4" fill="#e3e3e3"/>
<circle cx="565.15" cy="703.00" r="2.4" fill="#e3e3e3"/>
<circle cx="582.20" cy="703.00" r="2.4" fill="#e3e3e3"/>
<circle cx="599.25" cy="703.00" r="2.5" fill="#000"/>
<circle cx="616.30" cy="703.00" r="2.4" fill="#e3e3e3"/>
<circle cx="633.35" cy="703.00" r="2.4" fill="#e3e3e3"/>
<circle cx="650.40" cy="703.00" r="2.4" fill="#e3e3e3"/>
<circle cx="667.45" cy="703.00" r="2.4" fill="#e3e3e3"/>
<circle cx="684.50" cy="703.00" r="2.4" fill="#e3e3e3"/>
<circle cx="701.55" cy="703.00" r="2.4" fill="#e3e3e3"/>
<text x="436.90" y="723.80" font-size="11.25" text-anchor="end" fill="#000" stroke="#000" stroke-width="0.28" stroke-linejoin="round" >Alpha mannosidase inhibitor</text>
<circle cx="445.80" cy="720.94" r="2.4" fill="#e3e3e3"/>
<circle cx="462.85" cy="720.94" r="2.4" fill="#e3e3e3"/>
<circle cx="479.90" cy="720.94" r="2.4" fill="#e3e3e3"/>
<circle cx="496.95" cy="720.94" r="2.4" fill="#e3e3e3"/>
<circle cx="514.00" cy="720.94" r="2.4" fill="#e3e3e3"/>
<circle cx="531.05" cy="720.94" r="2.4" fill="#e3e3e3"/>
<circle cx="548.10" cy="720.94" r="2.4" fill="#e3e3e3"/>
<circle cx="565.15" cy="720.94" r="2.4" fill="#e3e3e3"/>
<circle cx="582.20" cy="720.94" r="2.4" fill="#e3e3e3"/>
<circle cx="599.25" cy="720.94" r="2.4" fill="#e3e3e3"/>
<circle cx="616.30" cy="720.94" r="2.4" fill="#e3e3e3"/>
<circle cx="633.35" cy="720.94" r="2.4" fill="#e3e3e3"/>
<circle cx="650.40" cy="720.94" r="2.4" fill="#e3e3e3"/>
<circle cx="667.45" cy="720.94" r="2.4" fill="#e3e3e3"/>
<circle cx="684.50" cy="720.94" r="2.5" fill="#000"/>
<circle cx="701.55" cy="720.94" r="2.4" fill="#e3e3e3"/>
<text x="436.90" y="741.80" font-size="11.25" text-anchor="end" fill="#000" stroke="#000" stroke-width="0.28" stroke-linejoin="round" >Aurora kinase inhibitor</text>
<circle cx="445.80" cy="738.88" r="2.4" fill="#e3e3e3"/>
<circle cx="462.85" cy="738.88" r="2.4" fill="#e3e3e3"/>
<circle cx="479.90" cy="738.88" r="2.4" fill="#e3e3e3"/>
<circle cx="496.95" cy="738.88" r="2.4" fill="#e3e3e3"/>
<circle cx="514.00" cy="738.88" r="2.4" fill="#e3e3e3"/>
<circle cx="531.05" cy="738.88" r="2.4" fill="#e3e3e3"/>
<circle cx="548.10" cy="738.88" r="2.4" fill="#e3e3e3"/>
<circle cx="565.15" cy="738.88" r="2.4" fill="#e3e3e3"/>
<circle cx="582.20" cy="738.88" r="2.5" fill="#000"/>
<circle cx="599.25" cy="738.88" r="2.4" fill="#e3e3e3"/>
<circle cx="616.30" cy="738.88" r="2.4" fill="#e3e3e3"/>
<circle cx="633.35" cy="738.88" r="2.4" fill="#e3e3e3"/>
<circle cx="650.40" cy="738.88" r="2.4" fill="#e3e3e3"/>
<circle cx="667.45" cy="738.88" r="2.4" fill="#e3e3e3"/>
<circle cx="684.50" cy="738.88" r="2.4" fill="#e3e3e3"/>
<circle cx="701.55" cy="738.88" r="2.4" fill="#e3e3e3"/>
<text x="436.90" y="759.70" font-size="11.25" text-anchor="end" fill="#000" stroke="#000" stroke-width="0.28" stroke-linejoin="round" >Bone resorption inhibitor</text>
<circle cx="445.80" cy="756.82" r="2.4" fill="#e3e3e3"/>
<circle cx="462.85" cy="756.82" r="2.4" fill="#e3e3e3"/>
<circle cx="479.90" cy="756.82" r="2.4" fill="#e3e3e3"/>
<circle cx="496.95" cy="756.82" r="2.4" fill="#e3e3e3"/>
<circle cx="514.00" cy="756.82" r="2.4" fill="#e3e3e3"/>
<circle cx="531.05" cy="756.82" r="2.4" fill="#e3e3e3"/>
<circle cx="548.10" cy="756.82" r="2.4" fill="#e3e3e3"/>
<circle cx="565.15" cy="756.82" r="2.4" fill="#e3e3e3"/>
<circle cx="582.20" cy="756.82" r="2.4" fill="#e3e3e3"/>
<circle cx="599.25" cy="756.82" r="2.4" fill="#e3e3e3"/>
<circle cx="616.30" cy="756.82" r="2.5" fill="#000"/>
<circle cx="633.35" cy="756.82" r="2.4" fill="#e3e3e3"/>
<circle cx="650.40" cy="756.82" r="2.4" fill="#e3e3e3"/>
<circle cx="667.45" cy="756.82" r="2.4" fill="#e3e3e3"/>
<circle cx="684.50" cy="756.82" r="2.4" fill="#e3e3e3"/>
<circle cx="701.55" cy="756.82" r="2.4" fill="#e3e3e3"/>
<text x="436.90" y="777.60" font-size="11.25" text-anchor="end" fill="#000" stroke="#000" stroke-width="0.28" stroke-linejoin="round" >Bromodomain inhibitor</text>
<circle cx="445.80" cy="774.76" r="2.4" fill="#e3e3e3"/>
<circle cx="462.85" cy="774.76" r="2.4" fill="#e3e3e3"/>
<circle cx="479.90" cy="774.76" r="2.5" fill="#000"/>
<circle cx="496.95" cy="774.76" r="2.4" fill="#e3e3e3"/>
<circle cx="514.00" cy="774.76" r="2.4" fill="#e3e3e3"/>
<circle cx="531.05" cy="774.76" r="2.4" fill="#e3e3e3"/>
<circle cx="548.10" cy="774.76" r="2.4" fill="#e3e3e3"/>
<circle cx="565.15" cy="774.76" r="2.4" fill="#e3e3e3"/>
<circle cx="582.20" cy="774.76" r="2.4" fill="#e3e3e3"/>
<circle cx="599.25" cy="774.76" r="2.4" fill="#e3e3e3"/>
<circle cx="616.30" cy="774.76" r="2.4" fill="#e3e3e3"/>
<circle cx="633.35" cy="774.76" r="2.4" fill="#e3e3e3"/>
<circle cx="650.40" cy="774.76" r="2.4" fill="#e3e3e3"/>
<circle cx="667.45" cy="774.76" r="2.4" fill="#e3e3e3"/>
<circle cx="684.50" cy="774.76" r="2.4" fill="#e3e3e3"/>
<circle cx="701.55" cy="774.76" r="2.4" fill="#e3e3e3"/>
<text x="436.90" y="795.60" font-size="11.25" text-anchor="end" fill="#000" stroke="#000" stroke-width="0.28" stroke-linejoin="round" >CC chemokine receptor antagonist</text>
<circle cx="445.80" cy="792.70" r="2.5" fill="#000"/>
<circle cx="462.85" cy="792.70" r="2.4" fill="#e3e3e3"/>
<circle cx="479.90" cy="792.70" r="2.4" fill="#e3e3e3"/>
<circle cx="496.95" cy="792.70" r="2.4" fill="#e3e3e3"/>
<circle cx="514.00" cy="792.70" r="2.4" fill="#e3e3e3"/>
<circle cx="531.05" cy="792.70" r="2.4" fill="#e3e3e3"/>
<circle cx="548.10" cy="792.70" r="2.4" fill="#e3e3e3"/>
<circle cx="565.15" cy="792.70" r="2.4" fill="#e3e3e3"/>
<circle cx="582.20" cy="792.70" r="2.4" fill="#e3e3e3"/>
<circle cx="599.25" cy="792.70" r="2.4" fill="#e3e3e3"/>
<circle cx="616.30" cy="792.70" r="2.4" fill="#e3e3e3"/>
<circle cx="633.35" cy="792.70" r="2.4" fill="#e3e3e3"/>
<circle cx="650.40" cy="792.70" r="2.4" fill="#e3e3e3"/>
<circle cx="667.45" cy="792.70" r="2.4" fill="#e3e3e3"/>
<circle cx="684.50" cy="792.70" r="2.4" fill="#e3e3e3"/>
<circle cx="701.55" cy="792.70" r="2.4" fill="#e3e3e3"/>
<text x="436.90" y="814.30" font-size="11.25" text-anchor="end" fill="#000" stroke="#000" stroke-width="0.28" stroke-linejoin="round" >Dihydrofolate reductase inhibitor</text>
<circle cx="445.80" cy="810.64" r="2.4" fill="#e3e3e3"/>
<circle cx="462.85" cy="810.64" r="2.4" fill="#e3e3e3"/>
<circle cx="479.90" cy="810.64" r="2.4" fill="#e3e3e3"/>
<circle cx="496.95" cy="810.64" r="2.4" fill="#e3e3e3"/>
<circle cx="514.00" cy="810.64" r="2.4" fill="#e3e3e3"/>
<circle cx="531.05" cy="810.64" r="2.4" fill="#e3e3e3"/>
<circle cx="548.10" cy="810.64" r="2.4" fill="#e3e3e3"/>
<circle cx="565.15" cy="810.64" r="2.4" fill="#e3e3e3"/>
<circle cx="582.20" cy="810.64" r="2.4" fill="#e3e3e3"/>
<circle cx="599.25" cy="810.64" r="2.4" fill="#e3e3e3"/>
<circle cx="616.30" cy="810.64" r="2.4" fill="#e3e3e3"/>
<circle cx="633.35" cy="810.64" r="2.4" fill="#e3e3e3"/>
<circle cx="650.40" cy="810.64" r="2.4" fill="#e3e3e3"/>
<circle cx="667.45" cy="810.64" r="2.5" fill="#000"/>
<circle cx="684.50" cy="810.64" r="2.4" fill="#e3e3e3"/>
<circle cx="701.55" cy="810.64" r="2.4" fill="#e3e3e3"/>
<text x="436.90" y="830.50" font-size="11.25" text-anchor="end" fill="#000" stroke="#000" stroke-width="0.28" stroke-linejoin="round" >Dopamine receptor antagonist</text>
<circle cx="445.80" cy="828.58" r="2.4" fill="#e3e3e3"/>
<circle cx="462.85" cy="828.58" r="2.4" fill="#e3e3e3"/>
<circle cx="479.90" cy="828.58" r="2.4" fill="#e3e3e3"/>
<circle cx="496.95" cy="828.58" r="2.4" fill="#e3e3e3"/>
<circle cx="514.00" cy="828.58" r="2.4" fill="#e3e3e3"/>
<circle cx="531.05" cy="828.58" r="2.4" fill="#e3e3e3"/>
<circle cx="548.10" cy="828.58" r="2.4" fill="#e3e3e3"/>
<circle cx="565.15" cy="828.58" r="2.5" fill="#000"/>
<circle cx="582.20" cy="828.58" r="2.4" fill="#e3e3e3"/>
<circle cx="599.25" cy="828.58" r="2.4" fill="#e3e3e3"/>
<circle cx="616.30" cy="828.58" r="2.4" fill="#e3e3e3"/>
<circle cx="633.35" cy="828.58" r="2.4" fill="#e3e3e3"/>
<circle cx="650.40" cy="828.58" r="2.4" fill="#e3e3e3"/>
<circle cx="667.45" cy="828.58" r="2.4" fill="#e3e3e3"/>
<circle cx="684.50" cy="828.58" r="2.4" fill="#e3e3e3"/>
<circle cx="701.55" cy="828.58" r="2.4" fill="#e3e3e3"/>
<text x="436.90" y="849.00" font-size="11.25" text-anchor="end" fill="#000" stroke="#000" stroke-width="0.28" stroke-linejoin="round" >EGFR inhibitor</text>
<circle cx="445.80" cy="846.52" r="2.4" fill="#e3e3e3"/>
<circle cx="462.85" cy="846.52" r="2.4" fill="#e3e3e3"/>
<circle cx="479.90" cy="846.52" r="2.4" fill="#e3e3e3"/>
<circle cx="496.95" cy="846.52" r="2.4" fill="#e3e3e3"/>
<circle cx="514.00" cy="846.52" r="2.4" fill="#e3e3e3"/>
<circle cx="531.05" cy="846.52" r="2.4" fill="#e3e3e3"/>
<circle cx="548.10" cy="846.52" r="2.5" fill="#000"/>
<circle cx="565.15" cy="846.52" r="2.4" fill="#e3e3e3"/>
<circle cx="582.20" cy="846.52" r="2.4" fill="#e3e3e3"/>
<circle cx="599.25" cy="846.52" r="2.4" fill="#e3e3e3"/>
<circle cx="616.30" cy="846.52" r="2.4" fill="#e3e3e3"/>
<circle cx="633.35" cy="846.52" r="2.4" fill="#e3e3e3"/>
<circle cx="650.40" cy="846.52" r="2.4" fill="#e3e3e3"/>
<circle cx="667.45" cy="846.52" r="2.4" fill="#e3e3e3"/>
<circle cx="684.50" cy="846.52" r="2.4" fill="#e3e3e3"/>
<circle cx="701.55" cy="846.52" r="2.4" fill="#e3e3e3"/>
<text x="436.90" y="867.00" font-size="11.25" text-anchor="end" fill="#000" stroke="#000" stroke-width="0.28" stroke-linejoin="round" >Gamma secretase inhibitor</text>
<circle cx="445.80" cy="864.46" r="2.4" fill="#e3e3e3"/>
<circle cx="462.85" cy="864.46" r="2.5" fill="#000"/>
<circle cx="479.90" cy="864.46" r="2.4" fill="#e3e3e3"/>
<circle cx="496.95" cy="864.46" r="2.4" fill="#e3e3e3"/>
<circle cx="514.00" cy="864.46" r="2.4" fill="#e3e3e3"/>
<circle cx="531.05" cy="864.46" r="2.4" fill="#e3e3e3"/>
<circle cx="548.10" cy="864.46" r="2.4" fill="#e3e3e3"/>
<circle cx="565.15" cy="864.46" r="2.4" fill="#e3e3e3"/>
<circle cx="582.20" cy="864.46" r="2.4" fill="#e3e3e3"/>
<circle cx="599.25" cy="864.46" r="2.4" fill="#e3e3e3"/>
<circle cx="616.30" cy="864.46" r="2.4" fill="#e3e3e3"/>
<circle cx="633.35" cy="864.46" r="2.4" fill="#e3e3e3"/>
<circle cx="650.40" cy="864.46" r="2.4" fill="#e3e3e3"/>
<circle cx="667.45" cy="864.46" r="2.4" fill="#e3e3e3"/>
<circle cx="684.50" cy="864.46" r="2.4" fill="#e3e3e3"/>
<circle cx="701.55" cy="864.46" r="2.4" fill="#e3e3e3"/>
<text x="436.90" y="882.60" font-size="11.25" text-anchor="end" fill="#000" stroke="#000" stroke-width="0.28" stroke-linejoin="round" >Gap junction modulator</text>
<circle cx="445.80" cy="882.40" r="2.4" fill="#e3e3e3"/>
<circle cx="462.85" cy="882.40" r="2.4" fill="#e3e3e3"/>
<circle cx="479.90" cy="882.40" r="2.4" fill="#e3e3e3"/>
<circle cx="496.95" cy="882.40" r="2.4" fill="#e3e3e3"/>
<circle cx="514.00" cy="882.40" r="2.4" fill="#e3e3e3"/>
<circle cx="531.05" cy="882.40" r="2.5" fill="#000"/>
<circle cx="548.10" cy="882.40" r="2.4" fill="#e3e3e3"/>
<circle cx="565.15" cy="882.40" r="2.4" fill="#e3e3e3"/>
<circle cx="582.20" cy="882.40" r="2.4" fill="#e3e3e3"/>
<circle cx="599.25" cy="882.40" r="2.4" fill="#e3e3e3"/>
<circle cx="616.30" cy="882.40" r="2.4" fill="#e3e3e3"/>
<circle cx="633.35" cy="882.40" r="2.4" fill="#e3e3e3"/>
<circle cx="650.40" cy="882.40" r="2.4" fill="#e3e3e3"/>
<circle cx="667.45" cy="882.40" r="2.4" fill="#e3e3e3"/>
<circle cx="684.50" cy="882.40" r="2.4" fill="#e3e3e3"/>
<circle cx="701.55" cy="882.40" r="2.4" fill="#e3e3e3"/>
<text x="436.90" y="902.60" font-size="11.25" text-anchor="end" fill="#000" stroke="#000" stroke-width="0.28" stroke-linejoin="round" >Histamine receptor antagonist</text>
<circle cx="445.80" cy="900.34" r="2.4" fill="#e3e3e3"/>
<circle cx="462.85" cy="900.34" r="2.4" fill="#e3e3e3"/>
<circle cx="479.90" cy="900.34" r="2.4" fill="#e3e3e3"/>
<circle cx="496.95" cy="900.34" r="2.4" fill="#e3e3e3"/>
<circle cx="514.00" cy="900.34" r="2.4" fill="#e3e3e3"/>
<circle cx="531.05" cy="900.34" r="2.4" fill="#e3e3e3"/>
<circle cx="548.10" cy="900.34" r="2.4" fill="#e3e3e3"/>
<circle cx="565.15" cy="900.34" r="2.4" fill="#e3e3e3"/>
<circle cx="582.20" cy="900.34" r="2.4" fill="#e3e3e3"/>
<circle cx="599.25" cy="900.34" r="2.4" fill="#e3e3e3"/>
<circle cx="616.30" cy="900.34" r="2.4" fill="#e3e3e3"/>
<circle cx="633.35" cy="900.34" r="2.5" fill="#000"/>
<circle cx="650.40" cy="900.34" r="2.4" fill="#e3e3e3"/>
<circle cx="667.45" cy="900.34" r="2.4" fill="#e3e3e3"/>
<circle cx="684.50" cy="900.34" r="2.4" fill="#e3e3e3"/>
<circle cx="701.55" cy="900.34" r="2.4" fill="#e3e3e3"/>
<text x="436.90" y="920.90" font-size="11.25" text-anchor="end" fill="#000" stroke="#000" stroke-width="0.28" stroke-linejoin="round" >IKK inhibitor</text>
<circle cx="445.80" cy="918.28" r="2.4" fill="#e3e3e3"/>
<circle cx="462.85" cy="918.28" r="2.4" fill="#e3e3e3"/>
<circle cx="479.90" cy="918.28" r="2.4" fill="#e3e3e3"/>
<circle cx="496.95" cy="918.28" r="2.5" fill="#000"/>
<circle cx="514.00" cy="918.28" r="2.4" fill="#e3e3e3"/>
<circle cx="531.05" cy="918.28" r="2.4" fill="#e3e3e3"/>
<circle cx="548.10" cy="918.28" r="2.4" fill="#e3e3e3"/>
<circle cx="565.15" cy="918.28" r="2.4" fill="#e3e3e3"/>
<circle cx="582.20" cy="918.28" r="2.4" fill="#e3e3e3"/>
<circle cx="599.25" cy="918.28" r="2.4" fill="#e3e3e3"/>
<circle cx="616.30" cy="918.28" r="2.4" fill="#e3e3e3"/>
<circle cx="633.35" cy="918.28" r="2.4" fill="#e3e3e3"/>
<circle cx="650.40" cy="918.28" r="2.4" fill="#e3e3e3"/>
<circle cx="667.45" cy="918.28" r="2.4" fill="#e3e3e3"/>
<circle cx="684.50" cy="918.28" r="2.4" fill="#e3e3e3"/>
<circle cx="701.55" cy="918.28" r="2.4" fill="#e3e3e3"/>
<text x="436.90" y="938.80" font-size="11.25" text-anchor="end" fill="#000" stroke="#000" stroke-width="0.28" stroke-linejoin="round" >JAK inhibitor</text>
<circle cx="445.80" cy="936.22" r="2.4" fill="#e3e3e3"/>
<circle cx="462.85" cy="936.22" r="2.4" fill="#e3e3e3"/>
<circle cx="479.90" cy="936.22" r="2.4" fill="#e3e3e3"/>
<circle cx="496.95" cy="936.22" r="2.4" fill="#e3e3e3"/>
<circle cx="514.00" cy="936.22" r="2.4" fill="#e3e3e3"/>
<circle cx="531.05" cy="936.22" r="2.4" fill="#e3e3e3"/>
<circle cx="548.10" cy="936.22" r="2.4" fill="#e3e3e3"/>
<circle cx="565.15" cy="936.22" r="2.4" fill="#e3e3e3"/>
<circle cx="582.20" cy="936.22" r="2.4" fill="#e3e3e3"/>
<circle cx="599.25" cy="936.22" r="2.4" fill="#e3e3e3"/>
<circle cx="616.30" cy="936.22" r="2.4" fill="#e3e3e3"/>
<circle cx="633.35" cy="936.22" r="2.4" fill="#e3e3e3"/>
<circle cx="650.40" cy="936.22" r="2.4" fill="#e3e3e3"/>
<circle cx="667.45" cy="936.22" r="2.4" fill="#e3e3e3"/>
<circle cx="684.50" cy="936.22" r="2.4" fill="#e3e3e3"/>
<circle cx="701.55" cy="936.22" r="2.5" fill="#000"/>
<text x="436.90" y="956.40" font-size="11.25" text-anchor="end" fill="#000" stroke="#000" stroke-width="0.28" stroke-linejoin="round" >Phospholipase inhibitor</text>
<circle cx="445.80" cy="954.16" r="2.4" fill="#e3e3e3"/>
<circle cx="462.85" cy="954.16" r="2.4" fill="#e3e3e3"/>
<circle cx="479.90" cy="954.16" r="2.4" fill="#e3e3e3"/>
<circle cx="496.95" cy="954.16" r="2.4" fill="#e3e3e3"/>
<circle cx="514.00" cy="954.16" r="2.5" fill="#000"/>
<circle cx="531.05" cy="954.16" r="2.4" fill="#e3e3e3"/>
<circle cx="548.10" cy="954.16" r="2.4" fill="#e3e3e3"/>
<circle cx="565.15" cy="954.16" r="2.4" fill="#e3e3e3"/>
<circle cx="582.20" cy="954.16" r="2.4" fill="#e3e3e3"/>
<circle cx="599.25" cy="954.16" r="2.4" fill="#e3e3e3"/>
<circle cx="616.30" cy="954.16" r="2.4" fill="#e3e3e3"/>
<circle cx="633.35" cy="954.16" r="2.4" fill="#e3e3e3"/>
<circle cx="650.40" cy="954.16" r="2.4" fill="#e3e3e3"/>
<circle cx="667.45" cy="954.16" r="2.4" fill="#e3e3e3"/>
<circle cx="684.50" cy="954.16" r="2.4" fill="#e3e3e3"/>
<circle cx="701.55" cy="954.16" r="2.4" fill="#e3e3e3"/>
<text x="436.90" y="969.40" font-size="11.25" text-anchor="end" fill="#000" stroke="#000" stroke-width="0.28" stroke-linejoin="round" >Serotonin receptor antagonist</text>
<circle cx="445.80" cy="967.00" r="2.4" fill="#e3e3e3"/>
<circle cx="462.85" cy="967.00" r="2.4" fill="#e3e3e3"/>
<circle cx="479.90" cy="967.00" r="2.4" fill="#e3e3e3"/>
<circle cx="496.95" cy="967.00" r="2.4" fill="#e3e3e3"/>
<circle cx="514.00" cy="967.00" r="2.4" fill="#e3e3e3"/>
<circle cx="531.05" cy="967.00" r="2.4" fill="#e3e3e3"/>
<circle cx="548.10" cy="967.00" r="2.4" fill="#e3e3e3"/>
<circle cx="565.15" cy="967.00" r="2.4" fill="#e3e3e3"/>
<circle cx="582.20" cy="967.00" r="2.4" fill="#e3e3e3"/>
<circle cx="599.25" cy="967.00" r="2.4" fill="#e3e3e3"/>
<circle cx="616.30" cy="967.00" r="2.4" fill="#e3e3e3"/>
<circle cx="633.35" cy="967.00" r="2.4" fill="#e3e3e3"/>
<circle cx="650.40" cy="967.00" r="2.5" fill="#000"/>
<circle cx="667.45" cy="967.00" r="2.4" fill="#e3e3e3"/>
<circle cx="684.50" cy="967.00" r="2.4" fill="#e3e3e3"/>
<circle cx="701.55" cy="967.00" r="2.4" fill="#e3e3e3"/>
<text transform="translate(445.60 693.8) rotate(-38.2)" stroke="#000" stroke-width="0.28" stroke-linejoin="round" font-size="11.2" text-anchor="start">AMG-487</text>
<text transform="translate(462.65 693.8) rotate(-38.2)" stroke="#000" stroke-width="0.28" stroke-linejoin="round" font-size="11.2" text-anchor="start">BRD-K65592642</text>
<text transform="translate(479.70 693.8) rotate(-38.2)" stroke="#000" stroke-width="0.28" stroke-linejoin="round" font-size="11.2" text-anchor="start">bromosporine</text>
<text transform="translate(496.75 693.8) rotate(-38.2)" stroke="#000" stroke-width="0.28" stroke-linejoin="round" font-size="11.2" text-anchor="start">BX-795</text>
<text transform="translate(513.80 693.8) rotate(-38.2)" stroke="#000" stroke-width="0.28" stroke-linejoin="round" font-size="11.2" text-anchor="start">CAY-10594</text>
<text transform="translate(530.85 693.8) rotate(-38.2)" stroke="#000" stroke-width="0.28" stroke-linejoin="round" font-size="11.2" text-anchor="start">danegaptide</text>
<text transform="translate(547.90 693.8) rotate(-38.2)" stroke="#000" stroke-width="0.28" stroke-linejoin="round" font-size="11.2" text-anchor="start">dovitinib</text>
<text transform="translate(564.95 693.8) rotate(-38.2)" stroke="#000" stroke-width="0.28" stroke-linejoin="round" font-size="11.2" text-anchor="start">trifluoperazine</text>
<text transform="translate(582.00 693.8) rotate(-38.2)" stroke="#000" stroke-width="0.28" stroke-linejoin="round" font-size="11.2" text-anchor="start">GSK-1070916</text>
<text transform="translate(599.05 693.8) rotate(-38.2)" stroke="#000" stroke-width="0.28" stroke-linejoin="round" font-size="11.2" text-anchor="start">GSK-690693</text>
<text transform="translate(616.10 693.8) rotate(-38.2)" stroke="#000" stroke-width="0.28" stroke-linejoin="round" font-size="11.2" text-anchor="start">K-02288</text>
<text transform="translate(634.40 693.8) rotate(-38.2)" stroke="#000" stroke-width="0.28" stroke-linejoin="round" font-size="11.2" text-anchor="start">loratadine</text>
<text transform="translate(651.45 693.8) rotate(-38.2)" stroke="#000" stroke-width="0.28" stroke-linejoin="round" font-size="11.2" text-anchor="start">NAS-181</text>
<text transform="translate(669.25 693.8) rotate(-38.2)" stroke="#000" stroke-width="0.28" stroke-linejoin="round" font-size="11.2" text-anchor="start">pyrimethamine</text>
<text transform="translate(686.80 693.8) rotate(-38.2)" stroke="#000" stroke-width="0.28" stroke-linejoin="round" font-size="11.2" text-anchor="start">swainsonine</text>
<text transform="translate(705.10 693.8) rotate(-38.2)" stroke="#000" stroke-width="0.28" stroke-linejoin="round" font-size="11.2" text-anchor="start">TG-101348</text>
</svg>
</body></html>
